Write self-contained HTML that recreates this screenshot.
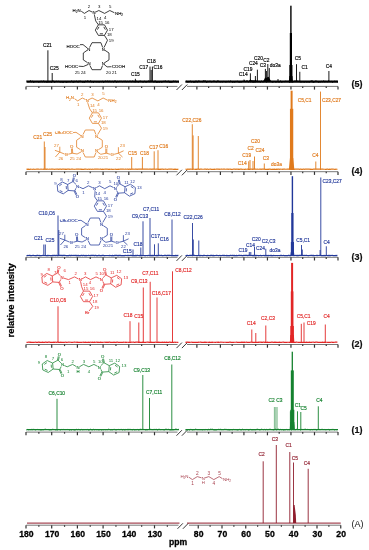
<!DOCTYPE html>
<html><head><meta charset="utf-8"><style>
html,body{margin:0;padding:0;background:#fff;}
svg{display:block;filter:blur(0.35px);}
text{font-family:"Liberation Sans",sans-serif;}
</style></head><body>
<svg width="369" height="550" viewBox="0 0 369 550" font-family="Liberation Sans, sans-serif">
<rect width="369" height="550" fill="#fff"/>
<line x1="26.20" y1="86.40" x2="177.50" y2="86.40" stroke="#555" stroke-width="0.8" />
<line x1="26.00" y1="86.40" x2="26.00" y2="89.60" stroke="#333333" stroke-width="1.2" />
<line x1="38.85" y1="86.40" x2="38.85" y2="88.00" stroke="#333333" stroke-width="1.2" />
<line x1="51.70" y1="86.40" x2="51.70" y2="89.60" stroke="#333333" stroke-width="1.2" />
<line x1="64.55" y1="86.40" x2="64.55" y2="88.00" stroke="#333333" stroke-width="1.2" />
<line x1="77.40" y1="86.40" x2="77.40" y2="89.60" stroke="#333333" stroke-width="1.2" />
<line x1="90.25" y1="86.40" x2="90.25" y2="88.00" stroke="#333333" stroke-width="1.2" />
<line x1="103.10" y1="86.40" x2="103.10" y2="89.60" stroke="#333333" stroke-width="1.2" />
<line x1="115.95" y1="86.40" x2="115.95" y2="88.00" stroke="#333333" stroke-width="1.2" />
<line x1="128.80" y1="86.40" x2="128.80" y2="89.60" stroke="#333333" stroke-width="1.2" />
<line x1="141.65" y1="86.40" x2="141.65" y2="88.00" stroke="#333333" stroke-width="1.2" />
<line x1="154.50" y1="86.40" x2="154.50" y2="89.60" stroke="#333333" stroke-width="1.2" />
<line x1="167.35" y1="86.40" x2="167.35" y2="88.00" stroke="#333333" stroke-width="1.2" />
<line x1="187.00" y1="86.40" x2="338.00" y2="86.40" stroke="#555" stroke-width="0.8" />
<line x1="338.00" y1="86.40" x2="338.00" y2="89.60" stroke="#333333" stroke-width="1.2" />
<line x1="326.24" y1="86.40" x2="326.24" y2="88.00" stroke="#333333" stroke-width="1.2" />
<line x1="314.48" y1="86.40" x2="314.48" y2="89.60" stroke="#333333" stroke-width="1.2" />
<line x1="302.72" y1="86.40" x2="302.72" y2="88.00" stroke="#333333" stroke-width="1.2" />
<line x1="290.96" y1="86.40" x2="290.96" y2="89.60" stroke="#333333" stroke-width="1.2" />
<line x1="279.20" y1="86.40" x2="279.20" y2="88.00" stroke="#333333" stroke-width="1.2" />
<line x1="267.44" y1="86.40" x2="267.44" y2="89.60" stroke="#333333" stroke-width="1.2" />
<line x1="255.68" y1="86.40" x2="255.68" y2="88.00" stroke="#333333" stroke-width="1.2" />
<line x1="243.92" y1="86.40" x2="243.92" y2="89.60" stroke="#333333" stroke-width="1.2" />
<line x1="232.16" y1="86.40" x2="232.16" y2="88.00" stroke="#333333" stroke-width="1.2" />
<line x1="220.40" y1="86.40" x2="220.40" y2="89.60" stroke="#333333" stroke-width="1.2" />
<line x1="208.64" y1="86.40" x2="208.64" y2="88.00" stroke="#333333" stroke-width="1.2" />
<line x1="196.88" y1="86.40" x2="196.88" y2="89.60" stroke="#333333" stroke-width="1.2" />
<line x1="176.50" y1="90.00" x2="181.90" y2="84.50" stroke="#222" stroke-width="0.9" />
<line x1="181.90" y1="90.00" x2="187.30" y2="84.50" stroke="#222" stroke-width="0.9" />
<line x1="26.20" y1="171.70" x2="177.50" y2="171.70" stroke="#555" stroke-width="0.8" />
<line x1="26.00" y1="171.70" x2="26.00" y2="174.90" stroke="#333333" stroke-width="1.2" />
<line x1="38.85" y1="171.70" x2="38.85" y2="173.30" stroke="#333333" stroke-width="1.2" />
<line x1="51.70" y1="171.70" x2="51.70" y2="174.90" stroke="#333333" stroke-width="1.2" />
<line x1="64.55" y1="171.70" x2="64.55" y2="173.30" stroke="#333333" stroke-width="1.2" />
<line x1="77.40" y1="171.70" x2="77.40" y2="174.90" stroke="#333333" stroke-width="1.2" />
<line x1="90.25" y1="171.70" x2="90.25" y2="173.30" stroke="#333333" stroke-width="1.2" />
<line x1="103.10" y1="171.70" x2="103.10" y2="174.90" stroke="#333333" stroke-width="1.2" />
<line x1="115.95" y1="171.70" x2="115.95" y2="173.30" stroke="#333333" stroke-width="1.2" />
<line x1="128.80" y1="171.70" x2="128.80" y2="174.90" stroke="#333333" stroke-width="1.2" />
<line x1="141.65" y1="171.70" x2="141.65" y2="173.30" stroke="#333333" stroke-width="1.2" />
<line x1="154.50" y1="171.70" x2="154.50" y2="174.90" stroke="#333333" stroke-width="1.2" />
<line x1="167.35" y1="171.70" x2="167.35" y2="173.30" stroke="#333333" stroke-width="1.2" />
<line x1="187.00" y1="171.70" x2="338.00" y2="171.70" stroke="#555" stroke-width="0.8" />
<line x1="338.00" y1="171.70" x2="338.00" y2="174.90" stroke="#333333" stroke-width="1.2" />
<line x1="326.24" y1="171.70" x2="326.24" y2="173.30" stroke="#333333" stroke-width="1.2" />
<line x1="314.48" y1="171.70" x2="314.48" y2="174.90" stroke="#333333" stroke-width="1.2" />
<line x1="302.72" y1="171.70" x2="302.72" y2="173.30" stroke="#333333" stroke-width="1.2" />
<line x1="290.96" y1="171.70" x2="290.96" y2="174.90" stroke="#333333" stroke-width="1.2" />
<line x1="279.20" y1="171.70" x2="279.20" y2="173.30" stroke="#333333" stroke-width="1.2" />
<line x1="267.44" y1="171.70" x2="267.44" y2="174.90" stroke="#333333" stroke-width="1.2" />
<line x1="255.68" y1="171.70" x2="255.68" y2="173.30" stroke="#333333" stroke-width="1.2" />
<line x1="243.92" y1="171.70" x2="243.92" y2="174.90" stroke="#333333" stroke-width="1.2" />
<line x1="232.16" y1="171.70" x2="232.16" y2="173.30" stroke="#333333" stroke-width="1.2" />
<line x1="220.40" y1="171.70" x2="220.40" y2="174.90" stroke="#333333" stroke-width="1.2" />
<line x1="208.64" y1="171.70" x2="208.64" y2="173.30" stroke="#333333" stroke-width="1.2" />
<line x1="196.88" y1="171.70" x2="196.88" y2="174.90" stroke="#333333" stroke-width="1.2" />
<line x1="176.50" y1="175.30" x2="181.90" y2="169.80" stroke="#222" stroke-width="0.9" />
<line x1="181.90" y1="175.30" x2="187.30" y2="169.80" stroke="#222" stroke-width="0.9" />
<line x1="26.20" y1="257.30" x2="177.50" y2="257.30" stroke="#555" stroke-width="0.8" />
<line x1="26.00" y1="257.30" x2="26.00" y2="260.50" stroke="#333333" stroke-width="1.2" />
<line x1="38.85" y1="257.30" x2="38.85" y2="258.90" stroke="#333333" stroke-width="1.2" />
<line x1="51.70" y1="257.30" x2="51.70" y2="260.50" stroke="#333333" stroke-width="1.2" />
<line x1="64.55" y1="257.30" x2="64.55" y2="258.90" stroke="#333333" stroke-width="1.2" />
<line x1="77.40" y1="257.30" x2="77.40" y2="260.50" stroke="#333333" stroke-width="1.2" />
<line x1="90.25" y1="257.30" x2="90.25" y2="258.90" stroke="#333333" stroke-width="1.2" />
<line x1="103.10" y1="257.30" x2="103.10" y2="260.50" stroke="#333333" stroke-width="1.2" />
<line x1="115.95" y1="257.30" x2="115.95" y2="258.90" stroke="#333333" stroke-width="1.2" />
<line x1="128.80" y1="257.30" x2="128.80" y2="260.50" stroke="#333333" stroke-width="1.2" />
<line x1="141.65" y1="257.30" x2="141.65" y2="258.90" stroke="#333333" stroke-width="1.2" />
<line x1="154.50" y1="257.30" x2="154.50" y2="260.50" stroke="#333333" stroke-width="1.2" />
<line x1="167.35" y1="257.30" x2="167.35" y2="258.90" stroke="#333333" stroke-width="1.2" />
<line x1="187.00" y1="257.30" x2="338.00" y2="257.30" stroke="#555" stroke-width="0.8" />
<line x1="338.00" y1="257.30" x2="338.00" y2="260.50" stroke="#333333" stroke-width="1.2" />
<line x1="326.24" y1="257.30" x2="326.24" y2="258.90" stroke="#333333" stroke-width="1.2" />
<line x1="314.48" y1="257.30" x2="314.48" y2="260.50" stroke="#333333" stroke-width="1.2" />
<line x1="302.72" y1="257.30" x2="302.72" y2="258.90" stroke="#333333" stroke-width="1.2" />
<line x1="290.96" y1="257.30" x2="290.96" y2="260.50" stroke="#333333" stroke-width="1.2" />
<line x1="279.20" y1="257.30" x2="279.20" y2="258.90" stroke="#333333" stroke-width="1.2" />
<line x1="267.44" y1="257.30" x2="267.44" y2="260.50" stroke="#333333" stroke-width="1.2" />
<line x1="255.68" y1="257.30" x2="255.68" y2="258.90" stroke="#333333" stroke-width="1.2" />
<line x1="243.92" y1="257.30" x2="243.92" y2="260.50" stroke="#333333" stroke-width="1.2" />
<line x1="232.16" y1="257.30" x2="232.16" y2="258.90" stroke="#333333" stroke-width="1.2" />
<line x1="220.40" y1="257.30" x2="220.40" y2="260.50" stroke="#333333" stroke-width="1.2" />
<line x1="208.64" y1="257.30" x2="208.64" y2="258.90" stroke="#333333" stroke-width="1.2" />
<line x1="196.88" y1="257.30" x2="196.88" y2="260.50" stroke="#333333" stroke-width="1.2" />
<line x1="176.50" y1="260.90" x2="181.90" y2="255.40" stroke="#222" stroke-width="0.9" />
<line x1="181.90" y1="260.90" x2="187.30" y2="255.40" stroke="#222" stroke-width="0.9" />
<line x1="26.20" y1="344.50" x2="177.50" y2="344.50" stroke="#555" stroke-width="0.8" />
<line x1="26.00" y1="344.50" x2="26.00" y2="347.70" stroke="#333333" stroke-width="1.2" />
<line x1="38.85" y1="344.50" x2="38.85" y2="346.10" stroke="#333333" stroke-width="1.2" />
<line x1="51.70" y1="344.50" x2="51.70" y2="347.70" stroke="#333333" stroke-width="1.2" />
<line x1="64.55" y1="344.50" x2="64.55" y2="346.10" stroke="#333333" stroke-width="1.2" />
<line x1="77.40" y1="344.50" x2="77.40" y2="347.70" stroke="#333333" stroke-width="1.2" />
<line x1="90.25" y1="344.50" x2="90.25" y2="346.10" stroke="#333333" stroke-width="1.2" />
<line x1="103.10" y1="344.50" x2="103.10" y2="347.70" stroke="#333333" stroke-width="1.2" />
<line x1="115.95" y1="344.50" x2="115.95" y2="346.10" stroke="#333333" stroke-width="1.2" />
<line x1="128.80" y1="344.50" x2="128.80" y2="347.70" stroke="#333333" stroke-width="1.2" />
<line x1="141.65" y1="344.50" x2="141.65" y2="346.10" stroke="#333333" stroke-width="1.2" />
<line x1="154.50" y1="344.50" x2="154.50" y2="347.70" stroke="#333333" stroke-width="1.2" />
<line x1="167.35" y1="344.50" x2="167.35" y2="346.10" stroke="#333333" stroke-width="1.2" />
<line x1="187.00" y1="344.50" x2="338.00" y2="344.50" stroke="#555" stroke-width="0.8" />
<line x1="338.00" y1="344.50" x2="338.00" y2="347.70" stroke="#333333" stroke-width="1.2" />
<line x1="326.24" y1="344.50" x2="326.24" y2="346.10" stroke="#333333" stroke-width="1.2" />
<line x1="314.48" y1="344.50" x2="314.48" y2="347.70" stroke="#333333" stroke-width="1.2" />
<line x1="302.72" y1="344.50" x2="302.72" y2="346.10" stroke="#333333" stroke-width="1.2" />
<line x1="290.96" y1="344.50" x2="290.96" y2="347.70" stroke="#333333" stroke-width="1.2" />
<line x1="279.20" y1="344.50" x2="279.20" y2="346.10" stroke="#333333" stroke-width="1.2" />
<line x1="267.44" y1="344.50" x2="267.44" y2="347.70" stroke="#333333" stroke-width="1.2" />
<line x1="255.68" y1="344.50" x2="255.68" y2="346.10" stroke="#333333" stroke-width="1.2" />
<line x1="243.92" y1="344.50" x2="243.92" y2="347.70" stroke="#333333" stroke-width="1.2" />
<line x1="232.16" y1="344.50" x2="232.16" y2="346.10" stroke="#333333" stroke-width="1.2" />
<line x1="220.40" y1="344.50" x2="220.40" y2="347.70" stroke="#333333" stroke-width="1.2" />
<line x1="208.64" y1="344.50" x2="208.64" y2="346.10" stroke="#333333" stroke-width="1.2" />
<line x1="196.88" y1="344.50" x2="196.88" y2="347.70" stroke="#333333" stroke-width="1.2" />
<line x1="176.50" y1="348.10" x2="181.90" y2="342.60" stroke="#222" stroke-width="0.9" />
<line x1="181.90" y1="348.10" x2="187.30" y2="342.60" stroke="#222" stroke-width="0.9" />
<line x1="26.20" y1="432.10" x2="177.50" y2="432.10" stroke="#555" stroke-width="0.8" />
<line x1="26.00" y1="432.10" x2="26.00" y2="435.30" stroke="#333333" stroke-width="1.2" />
<line x1="38.85" y1="432.10" x2="38.85" y2="433.70" stroke="#333333" stroke-width="1.2" />
<line x1="51.70" y1="432.10" x2="51.70" y2="435.30" stroke="#333333" stroke-width="1.2" />
<line x1="64.55" y1="432.10" x2="64.55" y2="433.70" stroke="#333333" stroke-width="1.2" />
<line x1="77.40" y1="432.10" x2="77.40" y2="435.30" stroke="#333333" stroke-width="1.2" />
<line x1="90.25" y1="432.10" x2="90.25" y2="433.70" stroke="#333333" stroke-width="1.2" />
<line x1="103.10" y1="432.10" x2="103.10" y2="435.30" stroke="#333333" stroke-width="1.2" />
<line x1="115.95" y1="432.10" x2="115.95" y2="433.70" stroke="#333333" stroke-width="1.2" />
<line x1="128.80" y1="432.10" x2="128.80" y2="435.30" stroke="#333333" stroke-width="1.2" />
<line x1="141.65" y1="432.10" x2="141.65" y2="433.70" stroke="#333333" stroke-width="1.2" />
<line x1="154.50" y1="432.10" x2="154.50" y2="435.30" stroke="#333333" stroke-width="1.2" />
<line x1="167.35" y1="432.10" x2="167.35" y2="433.70" stroke="#333333" stroke-width="1.2" />
<line x1="187.00" y1="432.10" x2="338.00" y2="432.10" stroke="#555" stroke-width="0.8" />
<line x1="338.00" y1="432.10" x2="338.00" y2="435.30" stroke="#333333" stroke-width="1.2" />
<line x1="326.24" y1="432.10" x2="326.24" y2="433.70" stroke="#333333" stroke-width="1.2" />
<line x1="314.48" y1="432.10" x2="314.48" y2="435.30" stroke="#333333" stroke-width="1.2" />
<line x1="302.72" y1="432.10" x2="302.72" y2="433.70" stroke="#333333" stroke-width="1.2" />
<line x1="290.96" y1="432.10" x2="290.96" y2="435.30" stroke="#333333" stroke-width="1.2" />
<line x1="279.20" y1="432.10" x2="279.20" y2="433.70" stroke="#333333" stroke-width="1.2" />
<line x1="267.44" y1="432.10" x2="267.44" y2="435.30" stroke="#333333" stroke-width="1.2" />
<line x1="255.68" y1="432.10" x2="255.68" y2="433.70" stroke="#333333" stroke-width="1.2" />
<line x1="243.92" y1="432.10" x2="243.92" y2="435.30" stroke="#333333" stroke-width="1.2" />
<line x1="232.16" y1="432.10" x2="232.16" y2="433.70" stroke="#333333" stroke-width="1.2" />
<line x1="220.40" y1="432.10" x2="220.40" y2="435.30" stroke="#333333" stroke-width="1.2" />
<line x1="208.64" y1="432.10" x2="208.64" y2="433.70" stroke="#333333" stroke-width="1.2" />
<line x1="196.88" y1="432.10" x2="196.88" y2="435.30" stroke="#333333" stroke-width="1.2" />
<line x1="176.50" y1="435.70" x2="181.90" y2="430.20" stroke="#222" stroke-width="0.9" />
<line x1="181.90" y1="435.70" x2="187.30" y2="430.20" stroke="#222" stroke-width="0.9" />
<line x1="26.20" y1="525.20" x2="178.50" y2="525.20" stroke="#555" stroke-width="0.8" />
<line x1="26.00" y1="525.20" x2="26.00" y2="528.40" stroke="#333333" stroke-width="1.2" />
<line x1="38.85" y1="525.20" x2="38.85" y2="526.80" stroke="#333333" stroke-width="1.2" />
<line x1="51.70" y1="525.20" x2="51.70" y2="528.40" stroke="#333333" stroke-width="1.2" />
<line x1="64.55" y1="525.20" x2="64.55" y2="526.80" stroke="#333333" stroke-width="1.2" />
<line x1="77.40" y1="525.20" x2="77.40" y2="528.40" stroke="#333333" stroke-width="1.2" />
<line x1="90.25" y1="525.20" x2="90.25" y2="526.80" stroke="#333333" stroke-width="1.2" />
<line x1="103.10" y1="525.20" x2="103.10" y2="528.40" stroke="#333333" stroke-width="1.2" />
<line x1="115.95" y1="525.20" x2="115.95" y2="526.80" stroke="#333333" stroke-width="1.2" />
<line x1="128.80" y1="525.20" x2="128.80" y2="528.40" stroke="#333333" stroke-width="1.2" />
<line x1="141.65" y1="525.20" x2="141.65" y2="526.80" stroke="#333333" stroke-width="1.2" />
<line x1="154.50" y1="525.20" x2="154.50" y2="528.40" stroke="#333333" stroke-width="1.2" />
<line x1="167.35" y1="525.20" x2="167.35" y2="526.80" stroke="#333333" stroke-width="1.2" />
<line x1="189.00" y1="525.20" x2="340.75" y2="525.20" stroke="#555" stroke-width="0.8" />
<line x1="340.75" y1="525.20" x2="340.75" y2="528.40" stroke="#333333" stroke-width="1.2" />
<line x1="328.88" y1="525.20" x2="328.88" y2="526.80" stroke="#333333" stroke-width="1.2" />
<line x1="317.00" y1="525.20" x2="317.00" y2="528.40" stroke="#333333" stroke-width="1.2" />
<line x1="305.12" y1="525.20" x2="305.12" y2="526.80" stroke="#333333" stroke-width="1.2" />
<line x1="293.25" y1="525.20" x2="293.25" y2="528.40" stroke="#333333" stroke-width="1.2" />
<line x1="281.38" y1="525.20" x2="281.38" y2="526.80" stroke="#333333" stroke-width="1.2" />
<line x1="269.50" y1="525.20" x2="269.50" y2="528.40" stroke="#333333" stroke-width="1.2" />
<line x1="257.62" y1="525.20" x2="257.62" y2="526.80" stroke="#333333" stroke-width="1.2" />
<line x1="245.75" y1="525.20" x2="245.75" y2="528.40" stroke="#333333" stroke-width="1.2" />
<line x1="233.88" y1="525.20" x2="233.88" y2="526.80" stroke="#333333" stroke-width="1.2" />
<line x1="222.00" y1="525.20" x2="222.00" y2="528.40" stroke="#333333" stroke-width="1.2" />
<line x1="210.12" y1="525.20" x2="210.12" y2="526.80" stroke="#333333" stroke-width="1.2" />
<line x1="198.25" y1="525.20" x2="198.25" y2="528.40" stroke="#333333" stroke-width="1.2" />
<line x1="177.50" y1="528.80" x2="182.90" y2="523.30" stroke="#222" stroke-width="0.9" />
<line x1="182.90" y1="528.80" x2="188.30" y2="523.30" stroke="#222" stroke-width="0.9" />
<line x1="26.50" y1="81.60" x2="179.00" y2="81.60" stroke="#000000" stroke-width="2.2" />
<line x1="185.50" y1="81.60" x2="338.00" y2="81.60" stroke="#000000" stroke-width="2.2" />
<polyline points="26.50,81.13 27.20,81.68 27.90,81.37 28.60,81.79 29.30,81.83 30.00,80.82 30.70,80.72 31.40,82.21 32.10,81.17 32.80,81.12 33.50,82.49 34.20,81.55 34.90,82.21 35.60,81.56 36.30,81.85 37.00,80.97 37.70,81.84 38.40,82.26 39.10,81.64 39.80,82.03 40.50,81.91 41.20,80.82 41.90,82.06 42.60,81.76 43.30,81.24 44.00,80.76 44.70,82.26 45.40,81.55 46.10,81.99 46.80,82.28 47.50,81.99 48.20,82.36 48.90,81.41 49.60,82.14 50.30,81.50 51.00,82.38 51.70,82.28 52.40,80.88 53.10,80.94 53.80,81.09 54.50,82.44 55.20,81.49 55.90,81.83 56.60,81.24 57.30,81.61 58.00,81.39 58.70,81.33 59.40,81.75 60.10,81.75 60.80,82.33 61.50,81.93 62.20,82.37 62.90,82.24 63.60,82.48 64.30,81.91 65.00,80.99 65.70,82.25 66.40,82.44 67.10,82.33 67.80,81.72 68.50,81.98 69.20,81.08 69.90,82.20 70.60,81.73 71.30,81.21 72.00,80.81 72.70,82.24 73.40,82.48 74.10,80.86 74.80,82.14 75.50,81.44 76.20,80.97 76.90,81.23 77.60,82.08 78.30,82.27 79.00,80.78 79.70,81.81 80.40,80.78 81.10,81.99 81.80,81.30 82.50,82.29 83.20,82.47 83.90,81.61 84.60,82.50 85.30,81.26 86.00,80.84 86.70,81.78 87.40,80.76 88.10,81.06 88.80,81.43 89.50,81.80 90.20,80.98 90.90,80.78 91.60,82.26 92.30,81.26 93.00,82.43 93.70,82.31 94.40,81.38 95.10,81.53 95.80,81.64 96.50,81.86 97.20,81.77 97.90,81.71 98.60,81.82 99.30,82.39 100.00,81.61 100.70,81.48 101.40,82.00 102.10,81.13 102.80,81.24 103.50,82.46 104.20,81.64 104.90,81.69 105.60,80.72 106.30,81.45 107.00,81.74 107.70,80.74 108.40,81.81 109.10,81.84 109.80,80.81 110.50,81.83 111.20,81.54 111.90,81.92 112.60,81.33 113.30,81.97 114.00,82.03 114.70,80.74 115.40,80.81 116.10,81.92 116.80,82.43 117.50,81.15 118.20,81.52 118.90,81.77 119.60,81.28 120.30,81.36 121.00,81.26 121.70,81.36 122.40,81.77 123.10,81.24 123.80,81.38 124.50,82.09 125.20,80.75 125.90,81.72 126.60,82.02 127.30,81.26 128.00,81.10 128.70,82.15 129.40,81.13 130.10,81.04 130.80,81.48 131.50,81.96 132.20,80.88 132.90,81.28 133.60,81.30 134.30,82.20 135.00,81.49 135.70,82.24 136.40,81.00 137.10,81.31 137.80,81.87 138.50,82.29 139.20,81.51 139.90,81.11 140.60,80.92 141.30,81.65 142.00,81.04 142.70,82.15 143.40,82.21 144.10,81.03 144.80,81.20 145.50,82.15 146.20,81.86 146.90,82.15 147.60,81.32 148.30,80.93 149.00,81.23 149.70,82.13 150.40,81.19 151.10,81.32 151.80,81.45 152.50,81.46 153.20,81.44 153.90,82.36 154.60,80.98 155.30,80.71 156.00,82.40 156.70,82.28 157.40,82.48 158.10,81.48 158.80,82.41 159.50,82.37 160.20,81.10 160.90,82.04 161.60,82.21 162.30,81.89 163.00,81.63 163.70,81.22 164.40,81.31 165.10,81.11 165.80,80.82 166.50,81.76 167.20,81.22 167.90,82.16 168.60,80.78 169.30,82.33 170.00,81.95 170.70,82.36 171.40,82.31 172.10,82.32 172.80,81.74 173.50,80.72 174.20,82.04 174.90,81.01 175.60,81.24 176.30,81.89 177.00,81.64 177.70,81.44 178.40,82.39" stroke="#000000" stroke-width="0.9" fill="none" />
<polyline points="185.50,81.80 186.20,81.31 186.90,81.15 187.60,82.25 188.30,81.56 189.00,82.11 189.70,81.33 190.40,81.06 191.10,81.66 191.80,82.17 192.50,81.01 193.20,82.13 193.90,82.36 194.60,82.15 195.30,82.18 196.00,80.71 196.70,81.83 197.40,82.25 198.10,80.79 198.80,81.19 199.50,81.18 200.20,81.65 200.90,81.46 201.60,81.55 202.30,82.10 203.00,80.70 203.70,80.80 204.40,80.93 205.10,80.92 205.80,80.82 206.50,82.45 207.20,82.24 207.90,80.86 208.60,81.60 209.30,81.27 210.00,81.27 210.70,81.33 211.40,81.86 212.10,81.76 212.80,81.35 213.50,81.04 214.20,81.29 214.90,80.92 215.60,81.70 216.30,81.99 217.00,81.38 217.70,80.84 218.40,81.02 219.10,81.37 219.80,81.79 220.50,82.11 221.20,81.38 221.90,82.14 222.60,81.82 223.30,81.48 224.00,81.37 224.70,81.59 225.40,81.97 226.10,81.46 226.80,81.95 227.50,81.53 228.20,81.14 228.90,81.66 229.60,81.95 230.30,80.83 231.00,81.46 231.70,81.47 232.40,82.28 233.10,82.39 233.80,81.37 234.50,82.32 235.20,82.12 235.90,81.17 236.60,81.54 237.30,80.92 238.00,82.16 238.70,81.89 239.40,82.30 240.10,82.13 240.80,81.90 241.50,82.02 242.20,81.71 242.90,80.89 243.60,81.76 244.30,80.71 245.00,80.96 245.70,82.09 246.40,80.78 247.10,80.87 247.80,80.88 248.50,82.28 249.20,81.02 249.90,80.74 250.60,82.21 251.30,80.92 252.00,82.22 252.70,81.91 253.40,82.21 254.10,82.41 254.80,81.74 255.50,82.14 256.20,80.77 256.90,82.08 257.60,81.62 258.30,81.99 259.00,80.89 259.70,82.05 260.40,82.38 261.10,80.81 261.80,81.28 262.50,81.72 263.20,82.19 263.90,81.14 264.60,81.02 265.30,81.15 266.00,81.81 266.70,82.06 267.40,81.41 268.10,81.36 268.80,81.41 269.50,81.33 270.20,81.45 270.90,80.85 271.60,81.60 272.30,82.45 273.00,81.44 273.70,82.05 274.40,80.99 275.10,81.94 275.80,82.06 276.50,81.91 277.20,81.63 277.90,81.57 278.60,81.86 279.30,82.32 280.00,80.97 280.70,80.87 281.40,82.05 282.10,82.35 282.80,81.63 283.50,81.50 284.20,81.99 284.90,81.03 285.60,81.18 286.30,81.06 287.00,81.75 287.70,81.27 288.40,81.12 289.10,81.94 289.80,82.42 290.50,81.23 291.20,81.97 291.90,81.44 292.60,82.24 293.30,81.75 294.00,81.18 294.70,81.09 295.40,80.74 296.10,81.56 296.80,81.39 297.50,81.01 298.20,81.35 298.90,81.28 299.60,82.09 300.30,80.96 301.00,82.48 301.70,81.56 302.40,81.78 303.10,81.54 303.80,82.20 304.50,82.18 305.20,81.70 305.90,81.57 306.60,82.00 307.30,82.24 308.00,81.42 308.70,82.02 309.40,82.43 310.10,81.54 310.80,81.11 311.50,81.12 312.20,81.99 312.90,81.92 313.60,82.43 314.30,82.24 315.00,81.14 315.70,81.04 316.40,81.17 317.10,81.04 317.80,81.97 318.50,82.25 319.20,82.32 319.90,81.16 320.60,82.26 321.30,81.26 322.00,81.46 322.70,82.01 323.40,80.85 324.10,80.87 324.80,82.20 325.50,81.23 326.20,81.34 326.90,81.74 327.60,81.92 328.30,80.71 329.00,81.30 329.70,81.49 330.40,81.57 331.10,81.08 331.80,81.75 332.50,82.42 333.20,81.40 333.90,81.68 334.60,80.91 335.30,81.19 336.00,81.90 336.70,80.90 337.40,82.30" stroke="#000000" stroke-width="0.9" fill="none" />
<polyline points="26.50,169.32 27.20,169.08 27.90,169.33 28.60,169.16 29.30,169.28 30.00,169.28 30.70,169.14 31.40,169.25 32.10,169.25 32.80,169.29 33.50,169.13 34.20,169.28 34.90,169.34 35.60,169.25 36.30,169.21 37.00,169.08 37.70,169.20 38.40,169.16 39.10,169.27 39.80,169.25 40.50,169.22 41.20,169.10 41.90,169.24 42.60,169.24 43.30,169.10 44.00,169.32 44.70,169.25 45.40,169.09 46.10,169.33 46.80,169.09 47.50,169.15 48.20,169.27 48.90,169.23 49.60,169.22 50.30,169.24 51.00,169.19 51.70,169.14 52.40,169.10 53.10,169.07 53.80,169.26 54.50,169.28 55.20,169.21 55.90,169.27 56.60,169.16 57.30,169.13 58.00,169.17 58.70,169.31 59.40,169.06 60.10,169.20 60.80,169.12 61.50,169.28 62.20,169.16 62.90,169.15 63.60,169.17 64.30,169.21 65.00,169.28 65.70,169.16 66.40,169.30 67.10,169.08 67.80,169.13 68.50,169.08 69.20,169.08 69.90,169.28 70.60,169.27 71.30,169.11 72.00,169.11 72.70,169.17 73.40,169.27 74.10,169.29 74.80,169.27 75.50,169.23 76.20,169.09 76.90,169.17 77.60,169.11 78.30,169.21 79.00,169.22 79.70,169.11 80.40,169.13 81.10,169.28 81.80,169.06 82.50,169.29 83.20,169.32 83.90,169.33 84.60,169.16 85.30,169.22 86.00,169.22 86.70,169.24 87.40,169.34 88.10,169.26 88.80,169.14 89.50,169.31 90.20,169.20 90.90,169.23 91.60,169.27 92.30,169.05 93.00,169.28 93.70,169.25 94.40,169.20 95.10,169.21 95.80,169.19 96.50,169.11 97.20,169.21 97.90,169.06 98.60,169.20 99.30,169.24 100.00,169.18 100.70,169.22 101.40,169.34 102.10,169.32 102.80,169.09 103.50,169.29 104.20,169.24 104.90,169.07 105.60,169.16 106.30,169.12 107.00,169.07 107.70,169.21 108.40,169.33 109.10,169.15 109.80,169.31 110.50,169.26 111.20,169.09 111.90,169.31 112.60,169.23 113.30,169.33 114.00,169.26 114.70,169.27 115.40,169.15 116.10,169.29 116.80,169.33 117.50,169.31 118.20,169.18 118.90,169.28 119.60,169.20 120.30,169.08 121.00,169.06 121.70,169.07 122.40,169.11 123.10,169.10 123.80,169.20 124.50,169.26 125.20,169.21 125.90,169.18 126.60,169.24 127.30,169.14 128.00,169.19 128.70,169.28 129.40,169.17 130.10,169.10 130.80,169.32 131.50,169.27 132.20,169.16 132.90,169.16 133.60,169.21 134.30,169.23 135.00,169.12 135.70,169.05 136.40,169.11 137.10,169.28 137.80,169.09 138.50,169.19 139.20,169.11 139.90,169.11 140.60,169.10 141.30,169.17 142.00,169.10 142.70,169.06 143.40,169.08 144.10,169.10 144.80,169.20 145.50,169.07 146.20,169.06 146.90,169.18 147.60,169.17 148.30,169.26 149.00,169.07 149.70,169.17 150.40,169.17 151.10,169.06 151.80,169.34 152.50,169.12 153.20,169.08 153.90,169.19 154.60,169.10 155.30,169.24 156.00,169.15 156.70,169.09 157.40,169.07 158.10,169.27 158.80,169.13 159.50,169.29 160.20,169.19 160.90,169.33 161.60,169.14 162.30,169.12 163.00,169.13 163.70,169.29 164.40,169.24 165.10,169.15 165.80,169.08 166.50,169.25 167.20,169.34 167.90,169.23 168.60,169.05 169.30,169.06 170.00,169.08 170.70,169.10 171.40,169.06 172.10,169.07 172.80,169.25 173.50,169.32 174.20,169.11 174.90,169.34 175.60,169.19 176.30,169.29 177.00,169.33 177.70,169.33 178.40,169.06" stroke="#e07a1c" stroke-width="1.2" fill="none" />
<polyline points="185.50,169.14 186.20,169.23 186.90,169.33 187.60,169.08 188.30,169.14 189.00,169.30 189.70,169.08 190.40,169.17 191.10,169.15 191.80,169.25 192.50,169.33 193.20,169.10 193.90,169.27 194.60,169.27 195.30,169.30 196.00,169.22 196.70,169.33 197.40,169.16 198.10,169.17 198.80,169.12 199.50,169.28 200.20,169.19 200.90,169.13 201.60,169.10 202.30,169.27 203.00,169.23 203.70,169.26 204.40,169.17 205.10,169.20 205.80,169.10 206.50,169.26 207.20,169.06 207.90,169.19 208.60,169.28 209.30,169.25 210.00,169.08 210.70,169.12 211.40,169.30 212.10,169.24 212.80,169.31 213.50,169.31 214.20,169.18 214.90,169.32 215.60,169.27 216.30,169.15 217.00,169.16 217.70,169.07 218.40,169.17 219.10,169.34 219.80,169.08 220.50,169.22 221.20,169.08 221.90,169.07 222.60,169.24 223.30,169.12 224.00,169.06 224.70,169.10 225.40,169.24 226.10,169.23 226.80,169.05 227.50,169.12 228.20,169.34 228.90,169.12 229.60,169.22 230.30,169.18 231.00,169.28 231.70,169.23 232.40,169.29 233.10,169.21 233.80,169.11 234.50,169.10 235.20,169.07 235.90,169.30 236.60,169.08 237.30,169.06 238.00,169.34 238.70,169.11 239.40,169.32 240.10,169.08 240.80,169.19 241.50,169.12 242.20,169.30 242.90,169.23 243.60,169.24 244.30,169.28 245.00,169.31 245.70,169.15 246.40,169.23 247.10,169.18 247.80,169.08 248.50,169.30 249.20,169.23 249.90,169.29 250.60,169.11 251.30,169.21 252.00,169.19 252.70,169.27 253.40,169.07 254.10,169.15 254.80,169.20 255.50,169.07 256.20,169.22 256.90,169.27 257.60,169.18 258.30,169.24 259.00,169.23 259.70,169.11 260.40,169.16 261.10,169.35 261.80,169.15 262.50,169.18 263.20,169.08 263.90,169.12 264.60,169.10 265.30,169.33 266.00,169.27 266.70,169.31 267.40,169.35 268.10,169.23 268.80,169.33 269.50,169.21 270.20,169.18 270.90,169.33 271.60,169.32 272.30,169.33 273.00,169.20 273.70,169.28 274.40,169.17 275.10,169.35 275.80,169.33 276.50,169.14 277.20,169.33 277.90,169.11 278.60,169.08 279.30,169.27 280.00,169.14 280.70,169.21 281.40,169.24 282.10,169.06 282.80,169.27 283.50,169.13 284.20,169.18 284.90,169.15 285.60,169.27 286.30,169.27 287.00,169.14 287.70,169.08 288.40,169.14 289.10,169.17 289.80,169.07 290.50,169.10 291.20,169.28 291.90,169.26 292.60,169.34 293.30,169.34 294.00,169.31 294.70,169.16 295.40,169.10 296.10,169.14 296.80,169.19 297.50,169.21 298.20,169.21 298.90,169.16 299.60,169.31 300.30,169.14 301.00,169.19 301.70,169.32 302.40,169.29 303.10,169.14 303.80,169.12 304.50,169.29 305.20,169.05 305.90,169.09 306.60,169.21 307.30,169.21 308.00,169.10 308.70,169.07 309.40,169.11 310.10,169.28 310.80,169.19 311.50,169.34 312.20,169.29 312.90,169.34 313.60,169.06 314.30,169.11 315.00,169.05 315.70,169.18 316.40,169.15 317.10,169.07 317.80,169.21 318.50,169.08 319.20,169.14 319.90,169.12 320.60,169.29 321.30,169.18 322.00,169.13 322.70,169.06 323.40,169.18 324.10,169.24 324.80,169.25 325.50,169.32 326.20,169.29 326.90,169.12 327.60,169.09 328.30,169.28 329.00,169.29 329.70,169.20 330.40,169.30 331.10,169.22 331.80,169.13 332.50,169.10 333.20,169.06 333.90,169.24 334.60,169.32 335.30,169.32 336.00,169.19 336.70,169.25 337.40,169.33" stroke="#e07a1c" stroke-width="1.2" fill="none" />
<polyline points="26.50,255.59 27.20,255.53 27.90,255.47 28.60,255.51 29.30,255.40 30.00,255.40 30.70,255.56 31.40,255.65 32.10,255.51 32.80,255.47 33.50,255.46 34.20,255.49 34.90,255.59 35.60,255.49 36.30,255.64 37.00,255.40 37.70,255.44 38.40,255.51 39.10,255.47 39.80,255.61 40.50,255.60 41.20,255.63 41.90,255.53 42.60,255.36 43.30,255.52 44.00,255.51 44.70,255.50 45.40,255.43 46.10,255.56 46.80,255.62 47.50,255.38 48.20,255.55 48.90,255.46 49.60,255.50 50.30,255.62 51.00,255.64 51.70,255.54 52.40,255.41 53.10,255.63 53.80,255.40 54.50,255.46 55.20,255.60 55.90,255.44 56.60,255.43 57.30,255.63 58.00,255.63 58.70,255.45 59.40,255.47 60.10,255.43 60.80,255.39 61.50,255.43 62.20,255.64 62.90,255.37 63.60,255.42 64.30,255.41 65.00,255.37 65.70,255.51 66.40,255.57 67.10,255.60 67.80,255.54 68.50,255.60 69.20,255.35 69.90,255.43 70.60,255.64 71.30,255.37 72.00,255.43 72.70,255.49 73.40,255.43 74.10,255.51 74.80,255.36 75.50,255.42 76.20,255.64 76.90,255.39 77.60,255.62 78.30,255.40 79.00,255.65 79.70,255.55 80.40,255.54 81.10,255.39 81.80,255.37 82.50,255.58 83.20,255.40 83.90,255.41 84.60,255.60 85.30,255.61 86.00,255.36 86.70,255.64 87.40,255.51 88.10,255.46 88.80,255.38 89.50,255.47 90.20,255.65 90.90,255.43 91.60,255.39 92.30,255.39 93.00,255.39 93.70,255.46 94.40,255.62 95.10,255.37 95.80,255.41 96.50,255.63 97.20,255.65 97.90,255.64 98.60,255.42 99.30,255.46 100.00,255.64 100.70,255.50 101.40,255.56 102.10,255.44 102.80,255.36 103.50,255.45 104.20,255.57 104.90,255.58 105.60,255.52 106.30,255.49 107.00,255.51 107.70,255.48 108.40,255.51 109.10,255.60 109.80,255.41 110.50,255.53 111.20,255.63 111.90,255.60 112.60,255.40 113.30,255.64 114.00,255.60 114.70,255.40 115.40,255.43 116.10,255.41 116.80,255.37 117.50,255.64 118.20,255.47 118.90,255.61 119.60,255.38 120.30,255.35 121.00,255.61 121.70,255.59 122.40,255.65 123.10,255.56 123.80,255.51 124.50,255.58 125.20,255.38 125.90,255.51 126.60,255.48 127.30,255.39 128.00,255.53 128.70,255.45 129.40,255.50 130.10,255.46 130.80,255.45 131.50,255.46 132.20,255.53 132.90,255.64 133.60,255.63 134.30,255.61 135.00,255.60 135.70,255.44 136.40,255.64 137.10,255.43 137.80,255.39 138.50,255.50 139.20,255.57 139.90,255.45 140.60,255.54 141.30,255.43 142.00,255.64 142.70,255.49 143.40,255.49 144.10,255.51 144.80,255.61 145.50,255.65 146.20,255.51 146.90,255.48 147.60,255.54 148.30,255.37 149.00,255.48 149.70,255.60 150.40,255.58 151.10,255.37 151.80,255.61 152.50,255.47 153.20,255.64 153.90,255.46 154.60,255.41 155.30,255.51 156.00,255.62 156.70,255.48 157.40,255.61 158.10,255.56 158.80,255.46 159.50,255.44 160.20,255.50 160.90,255.47 161.60,255.46 162.30,255.55 163.00,255.61 163.70,255.53 164.40,255.39 165.10,255.42 165.80,255.46 166.50,255.53 167.20,255.39 167.90,255.37 168.60,255.45 169.30,255.43 170.00,255.36 170.70,255.51 171.40,255.63 172.10,255.51 172.80,255.57 173.50,255.60 174.20,255.60 174.90,255.62 175.60,255.48 176.30,255.55 177.00,255.39 177.70,255.61 178.40,255.46" stroke="#22389a" stroke-width="1.2" fill="none" />
<polyline points="185.50,255.49 186.20,255.62 186.90,255.44 187.60,255.41 188.30,255.60 189.00,255.53 189.70,255.38 190.40,255.36 191.10,255.46 191.80,255.35 192.50,255.60 193.20,255.41 193.90,255.43 194.60,255.47 195.30,255.50 196.00,255.48 196.70,255.54 197.40,255.55 198.10,255.48 198.80,255.38 199.50,255.64 200.20,255.56 200.90,255.38 201.60,255.48 202.30,255.58 203.00,255.65 203.70,255.37 204.40,255.35 205.10,255.49 205.80,255.48 206.50,255.62 207.20,255.60 207.90,255.45 208.60,255.48 209.30,255.52 210.00,255.62 210.70,255.41 211.40,255.47 212.10,255.38 212.80,255.54 213.50,255.36 214.20,255.63 214.90,255.51 215.60,255.52 216.30,255.38 217.00,255.42 217.70,255.49 218.40,255.61 219.10,255.51 219.80,255.44 220.50,255.64 221.20,255.55 221.90,255.51 222.60,255.41 223.30,255.44 224.00,255.62 224.70,255.39 225.40,255.51 226.10,255.54 226.80,255.46 227.50,255.58 228.20,255.62 228.90,255.61 229.60,255.57 230.30,255.41 231.00,255.37 231.70,255.48 232.40,255.44 233.10,255.41 233.80,255.61 234.50,255.41 235.20,255.60 235.90,255.63 236.60,255.39 237.30,255.62 238.00,255.47 238.70,255.41 239.40,255.41 240.10,255.36 240.80,255.50 241.50,255.47 242.20,255.61 242.90,255.60 243.60,255.37 244.30,255.47 245.00,255.47 245.70,255.40 246.40,255.43 247.10,255.43 247.80,255.56 248.50,255.45 249.20,255.38 249.90,255.42 250.60,255.48 251.30,255.52 252.00,255.42 252.70,255.56 253.40,255.41 254.10,255.55 254.80,255.53 255.50,255.40 256.20,255.58 256.90,255.47 257.60,255.51 258.30,255.53 259.00,255.54 259.70,255.48 260.40,255.37 261.10,255.59 261.80,255.61 262.50,255.50 263.20,255.52 263.90,255.43 264.60,255.62 265.30,255.56 266.00,255.42 266.70,255.60 267.40,255.65 268.10,255.45 268.80,255.65 269.50,255.49 270.20,255.40 270.90,255.57 271.60,255.45 272.30,255.57 273.00,255.53 273.70,255.38 274.40,255.51 275.10,255.61 275.80,255.49 276.50,255.51 277.20,255.61 277.90,255.48 278.60,255.50 279.30,255.52 280.00,255.60 280.70,255.41 281.40,255.38 282.10,255.58 282.80,255.52 283.50,255.44 284.20,255.62 284.90,255.62 285.60,255.51 286.30,255.65 287.00,255.60 287.70,255.57 288.40,255.44 289.10,255.35 289.80,255.55 290.50,255.57 291.20,255.46 291.90,255.49 292.60,255.52 293.30,255.42 294.00,255.56 294.70,255.52 295.40,255.47 296.10,255.38 296.80,255.52 297.50,255.45 298.20,255.57 298.90,255.40 299.60,255.47 300.30,255.41 301.00,255.47 301.70,255.52 302.40,255.38 303.10,255.37 303.80,255.49 304.50,255.41 305.20,255.50 305.90,255.40 306.60,255.38 307.30,255.51 308.00,255.63 308.70,255.61 309.40,255.50 310.10,255.47 310.80,255.37 311.50,255.43 312.20,255.44 312.90,255.63 313.60,255.39 314.30,255.63 315.00,255.49 315.70,255.48 316.40,255.43 317.10,255.64 317.80,255.41 318.50,255.52 319.20,255.50 319.90,255.41 320.60,255.42 321.30,255.65 322.00,255.59 322.70,255.57 323.40,255.62 324.10,255.38 324.80,255.56 325.50,255.58 326.20,255.42 326.90,255.49 327.60,255.64 328.30,255.45 329.00,255.58 329.70,255.40 330.40,255.55 331.10,255.43 331.80,255.50 332.50,255.46 333.20,255.61 333.90,255.57 334.60,255.50 335.30,255.56 336.00,255.48 336.70,255.59 337.40,255.43" stroke="#22389a" stroke-width="1.2" fill="none" />
<polyline points="26.50,342.31 27.20,342.33 27.90,342.27 28.60,342.16 29.30,342.20 30.00,342.34 30.70,342.21 31.40,342.38 32.10,342.30 32.80,342.44 33.50,342.40 34.20,342.37 34.90,342.26 35.60,342.16 36.30,342.32 37.00,342.37 37.70,342.43 38.40,342.21 39.10,342.20 39.80,342.44 40.50,342.37 41.20,342.30 41.90,342.37 42.60,342.19 43.30,342.31 44.00,342.35 44.70,342.33 45.40,342.20 46.10,342.19 46.80,342.34 47.50,342.42 48.20,342.19 48.90,342.15 49.60,342.17 50.30,342.39 51.00,342.27 51.70,342.29 52.40,342.45 53.10,342.33 53.80,342.23 54.50,342.36 55.20,342.15 55.90,342.23 56.60,342.36 57.30,342.20 58.00,342.16 58.70,342.31 59.40,342.25 60.10,342.44 60.80,342.18 61.50,342.39 62.20,342.27 62.90,342.39 63.60,342.28 64.30,342.35 65.00,342.25 65.70,342.22 66.40,342.29 67.10,342.39 67.80,342.25 68.50,342.22 69.20,342.27 69.90,342.18 70.60,342.24 71.30,342.32 72.00,342.31 72.70,342.33 73.40,342.24 74.10,342.16 74.80,342.16 75.50,342.25 76.20,342.21 76.90,342.32 77.60,342.23 78.30,342.38 79.00,342.33 79.70,342.35 80.40,342.37 81.10,342.31 81.80,342.28 82.50,342.24 83.20,342.17 83.90,342.39 84.60,342.30 85.30,342.18 86.00,342.43 86.70,342.32 87.40,342.34 88.10,342.28 88.80,342.19 89.50,342.45 90.20,342.20 90.90,342.26 91.60,342.45 92.30,342.19 93.00,342.30 93.70,342.29 94.40,342.22 95.10,342.43 95.80,342.27 96.50,342.15 97.20,342.29 97.90,342.15 98.60,342.36 99.30,342.41 100.00,342.42 100.70,342.16 101.40,342.35 102.10,342.24 102.80,342.29 103.50,342.24 104.20,342.24 104.90,342.19 105.60,342.34 106.30,342.18 107.00,342.44 107.70,342.16 108.40,342.44 109.10,342.21 109.80,342.18 110.50,342.37 111.20,342.31 111.90,342.38 112.60,342.30 113.30,342.34 114.00,342.17 114.70,342.35 115.40,342.30 116.10,342.44 116.80,342.15 117.50,342.17 118.20,342.35 118.90,342.43 119.60,342.28 120.30,342.36 121.00,342.32 121.70,342.27 122.40,342.29 123.10,342.33 123.80,342.16 124.50,342.24 125.20,342.37 125.90,342.23 126.60,342.29 127.30,342.23 128.00,342.26 128.70,342.35 129.40,342.37 130.10,342.44 130.80,342.29 131.50,342.21 132.20,342.25 132.90,342.17 133.60,342.22 134.30,342.33 135.00,342.33 135.70,342.22 136.40,342.20 137.10,342.18 137.80,342.20 138.50,342.30 139.20,342.23 139.90,342.42 140.60,342.32 141.30,342.25 142.00,342.28 142.70,342.16 143.40,342.37 144.10,342.38 144.80,342.26 145.50,342.37 146.20,342.23 146.90,342.22 147.60,342.22 148.30,342.21 149.00,342.33 149.70,342.34 150.40,342.37 151.10,342.18 151.80,342.38 152.50,342.29 153.20,342.26 153.90,342.30 154.60,342.28 155.30,342.21 156.00,342.27 156.70,342.34 157.40,342.36 158.10,342.42 158.80,342.21 159.50,342.42 160.20,342.39 160.90,342.36 161.60,342.44 162.30,342.19 163.00,342.38 163.70,342.42 164.40,342.19 165.10,342.33 165.80,342.43 166.50,342.24 167.20,342.41 167.90,342.42 168.60,342.28 169.30,342.19 170.00,342.21 170.70,342.40 171.40,342.28 172.10,342.24 172.80,342.28 173.50,342.43 174.20,342.23 174.90,342.16 175.60,342.43 176.30,342.25 177.00,342.27 177.70,342.44 178.40,342.23" stroke="#e22626" stroke-width="1.2" fill="none" />
<polyline points="185.50,342.18 186.20,342.42 186.90,342.22 187.60,342.22 188.30,342.43 189.00,342.22 189.70,342.42 190.40,342.25 191.10,342.24 191.80,342.21 192.50,342.31 193.20,342.32 193.90,342.27 194.60,342.30 195.30,342.24 196.00,342.40 196.70,342.43 197.40,342.38 198.10,342.40 198.80,342.17 199.50,342.23 200.20,342.21 200.90,342.20 201.60,342.44 202.30,342.42 203.00,342.42 203.70,342.32 204.40,342.18 205.10,342.28 205.80,342.17 206.50,342.42 207.20,342.23 207.90,342.24 208.60,342.43 209.30,342.21 210.00,342.43 210.70,342.24 211.40,342.35 212.10,342.18 212.80,342.42 213.50,342.27 214.20,342.25 214.90,342.35 215.60,342.33 216.30,342.23 217.00,342.19 217.70,342.32 218.40,342.16 219.10,342.41 219.80,342.25 220.50,342.20 221.20,342.25 221.90,342.18 222.60,342.24 223.30,342.31 224.00,342.27 224.70,342.25 225.40,342.24 226.10,342.30 226.80,342.38 227.50,342.28 228.20,342.38 228.90,342.29 229.60,342.19 230.30,342.20 231.00,342.40 231.70,342.29 232.40,342.26 233.10,342.30 233.80,342.40 234.50,342.26 235.20,342.26 235.90,342.26 236.60,342.15 237.30,342.31 238.00,342.29 238.70,342.30 239.40,342.29 240.10,342.29 240.80,342.36 241.50,342.21 242.20,342.44 242.90,342.18 243.60,342.41 244.30,342.20 245.00,342.39 245.70,342.23 246.40,342.17 247.10,342.31 247.80,342.40 248.50,342.40 249.20,342.41 249.90,342.44 250.60,342.17 251.30,342.26 252.00,342.18 252.70,342.38 253.40,342.29 254.10,342.37 254.80,342.39 255.50,342.45 256.20,342.35 256.90,342.41 257.60,342.31 258.30,342.17 259.00,342.42 259.70,342.18 260.40,342.18 261.10,342.40 261.80,342.23 262.50,342.35 263.20,342.16 263.90,342.21 264.60,342.36 265.30,342.16 266.00,342.30 266.70,342.43 267.40,342.21 268.10,342.36 268.80,342.37 269.50,342.34 270.20,342.38 270.90,342.36 271.60,342.15 272.30,342.21 273.00,342.31 273.70,342.44 274.40,342.22 275.10,342.33 275.80,342.19 276.50,342.40 277.20,342.28 277.90,342.31 278.60,342.35 279.30,342.19 280.00,342.37 280.70,342.39 281.40,342.41 282.10,342.23 282.80,342.22 283.50,342.20 284.20,342.42 284.90,342.28 285.60,342.27 286.30,342.31 287.00,342.36 287.70,342.25 288.40,342.25 289.10,342.38 289.80,342.38 290.50,342.24 291.20,342.17 291.90,342.43 292.60,342.37 293.30,342.33 294.00,342.27 294.70,342.44 295.40,342.28 296.10,342.21 296.80,342.18 297.50,342.26 298.20,342.33 298.90,342.26 299.60,342.43 300.30,342.34 301.00,342.29 301.70,342.35 302.40,342.33 303.10,342.34 303.80,342.30 304.50,342.31 305.20,342.30 305.90,342.40 306.60,342.21 307.30,342.39 308.00,342.24 308.70,342.40 309.40,342.17 310.10,342.30 310.80,342.28 311.50,342.36 312.20,342.21 312.90,342.23 313.60,342.19 314.30,342.32 315.00,342.32 315.70,342.15 316.40,342.20 317.10,342.21 317.80,342.44 318.50,342.29 319.20,342.32 319.90,342.24 320.60,342.35 321.30,342.39 322.00,342.35 322.70,342.15 323.40,342.28 324.10,342.30 324.80,342.16 325.50,342.39 326.20,342.25 326.90,342.24 327.60,342.34 328.30,342.33 329.00,342.30 329.70,342.41 330.40,342.31 331.10,342.25 331.80,342.17 332.50,342.32 333.20,342.26 333.90,342.31 334.60,342.25 335.30,342.15 336.00,342.16 336.70,342.20 337.40,342.18" stroke="#e22626" stroke-width="1.2" fill="none" />
<line x1="26.50" y1="429.60" x2="179.00" y2="429.60" stroke="#15822f" stroke-width="1.3" />
<line x1="185.50" y1="429.60" x2="338.00" y2="429.60" stroke="#15822f" stroke-width="1.3" />
<polyline points="26.50,430.02 27.20,429.70 27.90,429.29 28.60,429.85 29.30,429.76 30.00,429.07 30.70,429.90 31.40,429.27 32.10,430.20 32.80,429.17 33.50,429.34 34.20,429.30 34.90,430.03 35.60,429.98 36.30,429.70 37.00,429.18 37.70,429.51 38.40,429.84 39.10,429.07 39.80,430.11 40.50,430.01 41.20,430.12 41.90,429.84 42.60,429.74 43.30,430.17 44.00,429.32 44.70,429.37 45.40,429.15 46.10,429.22 46.80,429.96 47.50,429.11 48.20,429.89 48.90,429.48 49.60,430.05 50.30,429.91 51.00,429.82 51.70,430.01 52.40,429.05 53.10,429.32 53.80,429.44 54.50,429.52 55.20,429.80 55.90,430.06 56.60,429.89 57.30,430.11 58.00,429.84 58.70,429.43 59.40,429.61 60.10,429.90 60.80,429.98 61.50,429.44 62.20,429.43 62.90,429.74 63.60,429.27 64.30,430.06 65.00,429.00 65.70,429.78 66.40,429.58 67.10,429.23 67.80,429.68 68.50,429.57 69.20,430.15 69.90,430.06 70.60,429.70 71.30,430.05 72.00,430.06 72.70,429.20 73.40,429.99 74.10,430.00 74.80,430.19 75.50,429.91 76.20,429.47 76.90,429.25 77.60,429.78 78.30,429.25 79.00,429.91 79.70,429.69 80.40,429.99 81.10,429.43 81.80,429.36 82.50,430.09 83.20,429.80 83.90,429.45 84.60,429.67 85.30,429.52 86.00,429.77 86.70,429.62 87.40,429.34 88.10,430.18 88.80,430.06 89.50,429.91 90.20,429.33 90.90,429.23 91.60,429.88 92.30,429.99 93.00,429.78 93.70,429.26 94.40,429.86 95.10,429.63 95.80,429.45 96.50,429.71 97.20,429.54 97.90,429.78 98.60,429.90 99.30,430.18 100.00,429.13 100.70,429.69 101.40,430.13 102.10,429.79 102.80,429.70 103.50,430.02 104.20,429.04 104.90,429.95 105.60,429.75 106.30,429.70 107.00,429.37 107.70,429.74 108.40,429.15 109.10,429.63 109.80,429.31 110.50,430.12 111.20,429.97 111.90,429.57 112.60,429.91 113.30,429.46 114.00,429.63 114.70,429.19 115.40,430.03 116.10,429.92 116.80,429.91 117.50,429.10 118.20,429.98 118.90,429.01 119.60,429.68 120.30,429.59 121.00,429.07 121.70,429.51 122.40,430.06 123.10,429.75 123.80,429.38 124.50,429.98 125.20,429.43 125.90,430.08 126.60,429.48 127.30,429.09 128.00,430.17 128.70,429.09 129.40,429.30 130.10,429.93 130.80,429.14 131.50,429.65 132.20,430.03 132.90,429.71 133.60,429.42 134.30,429.91 135.00,429.99 135.70,429.70 136.40,429.75 137.10,429.39 137.80,429.49 138.50,430.19 139.20,430.17 139.90,429.00 140.60,429.24 141.30,429.27 142.00,429.95 142.70,429.24 143.40,429.20 144.10,429.92 144.80,429.20 145.50,430.17 146.20,429.55 146.90,430.08 147.60,429.98 148.30,429.25 149.00,429.94 149.70,429.50 150.40,429.27 151.10,429.06 151.80,429.84 152.50,429.67 153.20,429.36 153.90,430.00 154.60,429.24 155.30,429.53 156.00,429.10 156.70,429.42 157.40,430.06 158.10,429.60 158.80,429.18 159.50,429.28 160.20,429.77 160.90,429.33 161.60,430.06 162.30,429.07 163.00,430.04 163.70,429.75 164.40,429.99 165.10,429.43 165.80,429.08 166.50,429.21 167.20,429.75 167.90,429.03 168.60,429.13 169.30,429.94 170.00,430.05 170.70,430.03 171.40,430.00 172.10,429.67 172.80,430.05 173.50,429.84 174.20,429.67 174.90,429.51 175.60,429.03 176.30,429.11 177.00,429.30 177.70,429.55 178.40,429.15" stroke="#15822f" stroke-width="0.8" fill="none" />
<polyline points="185.50,430.16 186.20,429.69 186.90,429.89 187.60,430.07 188.30,429.27 189.00,430.06 189.70,430.15 190.40,429.32 191.10,429.15 191.80,429.96 192.50,430.07 193.20,429.96 193.90,429.49 194.60,429.72 195.30,429.14 196.00,429.28 196.70,429.50 197.40,429.89 198.10,429.11 198.80,430.11 199.50,429.04 200.20,430.16 200.90,429.28 201.60,429.98 202.30,429.98 203.00,430.15 203.70,429.56 204.40,429.84 205.10,429.35 205.80,430.00 206.50,429.13 207.20,430.06 207.90,429.71 208.60,429.07 209.30,430.13 210.00,429.38 210.70,429.08 211.40,429.31 212.10,429.03 212.80,429.34 213.50,429.85 214.20,430.19 214.90,429.76 215.60,430.02 216.30,429.99 217.00,429.86 217.70,429.46 218.40,429.30 219.10,429.19 219.80,429.66 220.50,429.24 221.20,429.89 221.90,429.38 222.60,429.70 223.30,429.66 224.00,429.75 224.70,429.19 225.40,429.31 226.10,429.83 226.80,429.26 227.50,429.81 228.20,430.16 228.90,429.47 229.60,430.15 230.30,429.74 231.00,430.13 231.70,429.63 232.40,429.90 233.10,429.82 233.80,429.23 234.50,429.62 235.20,429.70 235.90,429.56 236.60,429.79 237.30,430.09 238.00,429.95 238.70,429.97 239.40,429.17 240.10,429.84 240.80,429.75 241.50,430.13 242.20,429.00 242.90,429.21 243.60,430.17 244.30,429.45 245.00,429.85 245.70,429.71 246.40,429.48 247.10,429.53 247.80,429.67 248.50,430.18 249.20,429.64 249.90,429.95 250.60,429.36 251.30,429.85 252.00,429.73 252.70,429.89 253.40,430.06 254.10,429.10 254.80,430.16 255.50,429.73 256.20,429.31 256.90,429.56 257.60,429.12 258.30,429.28 259.00,430.01 259.70,429.85 260.40,430.04 261.10,429.19 261.80,429.13 262.50,429.46 263.20,429.59 263.90,429.85 264.60,429.36 265.30,429.88 266.00,429.70 266.70,429.35 267.40,429.95 268.10,429.09 268.80,429.71 269.50,429.23 270.20,429.05 270.90,429.57 271.60,429.62 272.30,429.74 273.00,429.45 273.70,430.12 274.40,429.94 275.10,429.18 275.80,429.01 276.50,430.15 277.20,429.49 277.90,429.13 278.60,429.21 279.30,429.84 280.00,429.21 280.70,429.45 281.40,429.81 282.10,429.42 282.80,429.78 283.50,430.14 284.20,429.95 284.90,429.75 285.60,429.75 286.30,429.37 287.00,429.77 287.70,429.78 288.40,429.70 289.10,429.59 289.80,429.90 290.50,429.25 291.20,429.86 291.90,430.17 292.60,429.04 293.30,429.30 294.00,430.18 294.70,429.10 295.40,429.98 296.10,429.70 296.80,429.08 297.50,429.76 298.20,429.01 298.90,430.02 299.60,429.36 300.30,430.11 301.00,430.08 301.70,429.16 302.40,429.48 303.10,429.18 303.80,429.91 304.50,429.11 305.20,429.09 305.90,429.14 306.60,430.03 307.30,429.30 308.00,429.39 308.70,429.54 309.40,429.66 310.10,429.50 310.80,430.14 311.50,429.41 312.20,429.57 312.90,430.03 313.60,429.29 314.30,429.21 315.00,430.00 315.70,429.38 316.40,430.07 317.10,429.99 317.80,429.45 318.50,429.40 319.20,429.12 319.90,430.05 320.60,429.53 321.30,429.41 322.00,429.21 322.70,429.27 323.40,430.05 324.10,429.16 324.80,429.67 325.50,429.75 326.20,429.62 326.90,429.60 327.60,429.48 328.30,429.23 329.00,429.99 329.70,430.08 330.40,429.68 331.10,429.30 331.80,430.09 332.50,429.24 333.20,429.21 333.90,429.75 334.60,430.00 335.30,429.69 336.00,429.13 336.70,430.17 337.40,429.19" stroke="#15822f" stroke-width="0.8" fill="none" />
<line x1="27.00" y1="523.10" x2="179.50" y2="523.10" stroke="#901e2e" stroke-width="1.0" />
<line x1="187.00" y1="523.10" x2="340.75" y2="523.10" stroke="#901e2e" stroke-width="1.0" />
<text x="351.60" y="87.00" font-size="9.0" fill="#111" text-anchor="start" font-weight="bold" stroke="#111" stroke-width="0.2">(5)</text>
<text x="351.60" y="174.00" font-size="9.0" fill="#111" text-anchor="start" font-weight="bold" stroke="#111" stroke-width="0.2">(4)</text>
<text x="351.60" y="260.00" font-size="9.0" fill="#111" text-anchor="start" font-weight="bold" stroke="#111" stroke-width="0.2">(3)</text>
<text x="351.60" y="346.50" font-size="9.0" fill="#111" text-anchor="start" font-weight="bold" stroke="#111" stroke-width="0.2">(2)</text>
<text x="351.60" y="433.30" font-size="9.0" fill="#111" text-anchor="start" font-weight="bold" stroke="#111" stroke-width="0.2">(1)</text>
<text x="351.60" y="527.00" font-size="9.0" fill="#111" text-anchor="start" font-weight="normal" >(A)</text>
<text x="26.40" y="537.0" font-size="8.9" fill="#000" stroke="#000" stroke-width="0.3" font-weight="bold" text-anchor="middle" textLength="14.40" lengthAdjust="spacingAndGlyphs">180</text>
<text x="52.10" y="537.0" font-size="8.9" fill="#000" stroke="#000" stroke-width="0.3" font-weight="bold" text-anchor="middle" textLength="14.40" lengthAdjust="spacingAndGlyphs">170</text>
<text x="77.80" y="537.0" font-size="8.9" fill="#000" stroke="#000" stroke-width="0.3" font-weight="bold" text-anchor="middle" textLength="14.40" lengthAdjust="spacingAndGlyphs">160</text>
<text x="103.50" y="537.0" font-size="8.9" fill="#000" stroke="#000" stroke-width="0.3" font-weight="bold" text-anchor="middle" textLength="14.40" lengthAdjust="spacingAndGlyphs">150</text>
<text x="129.20" y="537.0" font-size="8.9" fill="#000" stroke="#000" stroke-width="0.3" font-weight="bold" text-anchor="middle" textLength="14.40" lengthAdjust="spacingAndGlyphs">140</text>
<text x="154.90" y="537.0" font-size="8.9" fill="#000" stroke="#000" stroke-width="0.3" font-weight="bold" text-anchor="middle" textLength="14.40" lengthAdjust="spacingAndGlyphs">130</text>
<text x="198.65" y="537.0" font-size="8.9" fill="#000" stroke="#000" stroke-width="0.3" font-weight="bold" text-anchor="middle" textLength="9.60" lengthAdjust="spacingAndGlyphs">80</text>
<text x="222.40" y="537.0" font-size="8.9" fill="#000" stroke="#000" stroke-width="0.3" font-weight="bold" text-anchor="middle" textLength="9.60" lengthAdjust="spacingAndGlyphs">70</text>
<text x="246.15" y="537.0" font-size="8.9" fill="#000" stroke="#000" stroke-width="0.3" font-weight="bold" text-anchor="middle" textLength="9.60" lengthAdjust="spacingAndGlyphs">60</text>
<text x="269.90" y="537.0" font-size="8.9" fill="#000" stroke="#000" stroke-width="0.3" font-weight="bold" text-anchor="middle" textLength="9.60" lengthAdjust="spacingAndGlyphs">50</text>
<text x="293.65" y="537.0" font-size="8.9" fill="#000" stroke="#000" stroke-width="0.3" font-weight="bold" text-anchor="middle" textLength="9.60" lengthAdjust="spacingAndGlyphs">40</text>
<text x="317.40" y="537.0" font-size="8.9" fill="#000" stroke="#000" stroke-width="0.3" font-weight="bold" text-anchor="middle" textLength="9.60" lengthAdjust="spacingAndGlyphs">30</text>
<text x="341.15" y="537.0" font-size="8.9" fill="#000" stroke="#000" stroke-width="0.3" font-weight="bold" text-anchor="middle" textLength="9.60" lengthAdjust="spacingAndGlyphs">20</text>
<text x="178.00" y="544.90" font-size="8.6" fill="#000" text-anchor="middle" font-weight="bold" stroke="#000" stroke-width="0.3">ppm</text>
<text x="0" y="0" font-size="8.6" fill="#000" stroke="#000" stroke-width="0.25" font-weight="bold" text-anchor="middle" textLength="74.3" lengthAdjust="spacingAndGlyphs" transform="translate(14.0,300.3) rotate(-90)">relative intensity</text>
<line x1="47.90" y1="81.70" x2="47.90" y2="50.30" stroke="#000000" stroke-width="0.9" />
<line x1="52.20" y1="81.70" x2="52.20" y2="73.00" stroke="#000000" stroke-width="0.9" />
<line x1="135.40" y1="81.70" x2="135.40" y2="78.80" stroke="#000000" stroke-width="0.9" />
<line x1="150.00" y1="81.70" x2="150.00" y2="66.60" stroke="#000000" stroke-width="0.9" />
<line x1="152.40" y1="81.70" x2="152.40" y2="66.60" stroke="#000000" stroke-width="0.9" />
<line x1="151.20" y1="81.70" x2="151.20" y2="70.00" stroke="#000000" stroke-width="0.9" />
<polygon points="262.80,81.60 264.20,79.50 265.20,77.20 266.30,78.30 267.30,77.20 268.60,76.80 269.60,78.80 271.20,81.60" fill="#000000" stroke="none"/>
<polygon points="249.20,81.60 250.20,79.00 251.20,80.20 254.80,80.40 255.60,79.30 256.50,81.60" fill="#000000" stroke="none"/>
<line x1="250.40" y1="81.70" x2="250.40" y2="73.30" stroke="#000000" stroke-width="0.9" />
<line x1="255.40" y1="81.70" x2="255.40" y2="76.00" stroke="#000000" stroke-width="0.9" />
<line x1="257.40" y1="81.70" x2="257.40" y2="69.70" stroke="#000000" stroke-width="0.9" />
<line x1="265.40" y1="81.70" x2="265.40" y2="68.90" stroke="#000000" stroke-width="0.9" />
<line x1="266.40" y1="81.70" x2="266.40" y2="71.00" stroke="#000000" stroke-width="0.9" />
<line x1="267.80" y1="81.70" x2="267.80" y2="64.00" stroke="#000000" stroke-width="0.9" />
<line x1="269.30" y1="81.70" x2="269.30" y2="68.10" stroke="#000000" stroke-width="0.9" />
<line x1="296.50" y1="81.70" x2="296.50" y2="64.20" stroke="#000000" stroke-width="0.9" />
<line x1="299.80" y1="81.70" x2="299.80" y2="71.80" stroke="#000000" stroke-width="0.9" />
<line x1="328.90" y1="81.70" x2="328.90" y2="71.00" stroke="#000000" stroke-width="0.9" />
<line x1="278.00" y1="81.70" x2="278.00" y2="79.00" stroke="#000000" stroke-width="0.9" />
<line x1="244.00" y1="81.70" x2="244.00" y2="79.50" stroke="#000000" stroke-width="0.9" />
<line x1="312.00" y1="81.70" x2="312.00" y2="80.00" stroke="#000000" stroke-width="0.9" />
<rect x="290.20" y="5.70" width="1.40" height="76.00" fill="#000000"/>
<rect x="289.80" y="33.00" width="2.20" height="48.70" fill="#000000"/>
<rect x="289.35" y="65.00" width="3.10" height="16.70" fill="#000000"/>
<polygon points="289.35,76.00 292.45,76.00 293.00,82.20 288.80,82.20" fill="#000000" stroke="none"/>
<text x="42.90" y="47.05" font-size="5.7" fill="#000000" stroke="#000000" stroke-width="0.18" textLength="8.92" lengthAdjust="spacingAndGlyphs">C21</text>
<text x="49.80" y="70.05" font-size="5.7" fill="#000000" stroke="#000000" stroke-width="0.18" textLength="8.92" lengthAdjust="spacingAndGlyphs">C25</text>
<text x="130.90" y="76.35" font-size="5.7" fill="#000000" stroke="#000000" stroke-width="0.18" textLength="8.92" lengthAdjust="spacingAndGlyphs">C15</text>
<text x="139.20" y="69.05" font-size="5.7" fill="#000000" stroke="#000000" stroke-width="0.18" textLength="8.92" lengthAdjust="spacingAndGlyphs">C17</text>
<text x="146.80" y="62.55" font-size="5.7" fill="#000000" stroke="#000000" stroke-width="0.18" textLength="8.92" lengthAdjust="spacingAndGlyphs">C18</text>
<text x="153.50" y="69.05" font-size="5.7" fill="#000000" stroke="#000000" stroke-width="0.18" textLength="8.92" lengthAdjust="spacingAndGlyphs">C16</text>
<text x="238.80" y="76.25" font-size="5.7" fill="#000000" stroke="#000000" stroke-width="0.18" textLength="8.92" lengthAdjust="spacingAndGlyphs">C14</text>
<text x="243.60" y="71.05" font-size="5.7" fill="#000000" stroke="#000000" stroke-width="0.18" textLength="8.92" lengthAdjust="spacingAndGlyphs">C19</text>
<text x="248.90" y="65.35" font-size="5.7" fill="#000000" stroke="#000000" stroke-width="0.18" textLength="8.92" lengthAdjust="spacingAndGlyphs">C24</text>
<text x="254.00" y="60.05" font-size="5.7" fill="#000000" stroke="#000000" stroke-width="0.18" textLength="8.92" lengthAdjust="spacingAndGlyphs">C20</text>
<text x="263.20" y="62.25" font-size="5.7" fill="#000000" stroke="#000000" stroke-width="0.18" textLength="6.22" lengthAdjust="spacingAndGlyphs">C2</text>
<text x="259.70" y="66.85" font-size="5.7" fill="#000000" stroke="#000000" stroke-width="0.18" textLength="6.22" lengthAdjust="spacingAndGlyphs">C3</text>
<text x="269.80" y="66.85" font-size="5.7" fill="#000000" stroke="#000000" stroke-width="0.18" textLength="10.82" lengthAdjust="spacingAndGlyphs">do3a</text>
<text x="294.80" y="60.05" font-size="5.7" fill="#000000" stroke="#000000" stroke-width="0.18" textLength="6.22" lengthAdjust="spacingAndGlyphs">C5</text>
<text x="301.50" y="69.15" font-size="5.7" fill="#000000" stroke="#000000" stroke-width="0.18" textLength="6.22" lengthAdjust="spacingAndGlyphs">C1</text>
<text x="325.80" y="67.85" font-size="5.7" fill="#000000" stroke="#000000" stroke-width="0.18" textLength="6.22" lengthAdjust="spacingAndGlyphs">C4</text>
<line x1="44.30" y1="169.20" x2="44.30" y2="141.50" stroke="#e07a1c" stroke-width="0.9" />
<line x1="45.00" y1="169.20" x2="45.00" y2="147.00" stroke="#e07a1c" stroke-width="0.9" />
<line x1="131.70" y1="169.20" x2="131.70" y2="157.00" stroke="#e07a1c" stroke-width="0.9" />
<line x1="142.40" y1="169.20" x2="142.40" y2="157.00" stroke="#e07a1c" stroke-width="0.9" />
<line x1="154.20" y1="169.20" x2="154.20" y2="151.30" stroke="#e07a1c" stroke-width="0.9" />
<line x1="158.00" y1="169.20" x2="158.00" y2="150.20" stroke="#e07a1c" stroke-width="0.9" />
<line x1="192.30" y1="169.20" x2="192.30" y2="124.20" stroke="#e07a1c" stroke-width="0.9" />
<line x1="193.10" y1="169.20" x2="193.10" y2="135.40" stroke="#e07a1c" stroke-width="0.9" />
<line x1="198.30" y1="169.20" x2="198.30" y2="136.00" stroke="#e07a1c" stroke-width="0.9" />
<line x1="248.70" y1="169.20" x2="248.70" y2="161.30" stroke="#e07a1c" stroke-width="0.9" />
<line x1="250.00" y1="169.20" x2="250.00" y2="160.00" stroke="#e07a1c" stroke-width="0.9" />
<line x1="253.00" y1="169.20" x2="253.00" y2="161.00" stroke="#e07a1c" stroke-width="0.9" />
<line x1="254.50" y1="169.20" x2="254.50" y2="156.50" stroke="#e07a1c" stroke-width="0.9" />
<line x1="264.30" y1="169.20" x2="264.30" y2="163.50" stroke="#e07a1c" stroke-width="0.9" />
<line x1="315.80" y1="169.20" x2="315.80" y2="161.50" stroke="#e07a1c" stroke-width="0.9" />
<line x1="320.50" y1="169.20" x2="320.50" y2="91.60" stroke="#e07a1c" stroke-width="0.9" />
<rect x="290.60" y="90.70" width="2.00" height="78.50" fill="#e07a1c"/>
<rect x="289.95" y="108.80" width="3.30" height="60.40" fill="#e07a1c"/>
<polygon points="289.95,158.00 293.25,158.00 294.35,169.70 288.85,169.70" fill="#e07a1c" stroke="none"/>
<text x="33.20" y="139.25" font-size="5.7" fill="#e07a1c" stroke="#e07a1c" stroke-width="0.18" textLength="8.92" lengthAdjust="spacingAndGlyphs">C21</text>
<text x="43.00" y="136.05" font-size="5.7" fill="#e07a1c" stroke="#e07a1c" stroke-width="0.18" textLength="8.92" lengthAdjust="spacingAndGlyphs">C25</text>
<text x="128.10" y="155.05" font-size="5.7" fill="#e07a1c" stroke="#e07a1c" stroke-width="0.18" textLength="8.92" lengthAdjust="spacingAndGlyphs">C15</text>
<text x="140.00" y="155.05" font-size="5.7" fill="#e07a1c" stroke="#e07a1c" stroke-width="0.18" textLength="8.92" lengthAdjust="spacingAndGlyphs">C18</text>
<text x="149.30" y="149.05" font-size="5.7" fill="#e07a1c" stroke="#e07a1c" stroke-width="0.18" textLength="8.92" lengthAdjust="spacingAndGlyphs">C17</text>
<text x="159.30" y="148.35" font-size="5.7" fill="#e07a1c" stroke="#e07a1c" stroke-width="0.18" textLength="8.92" lengthAdjust="spacingAndGlyphs">C16</text>
<text x="182.30" y="121.55" font-size="5.7" fill="#e07a1c" stroke="#e07a1c" stroke-width="0.18" textLength="19.19" lengthAdjust="spacingAndGlyphs">C22,C26</text>
<text x="237.80" y="164.55" font-size="5.7" fill="#e07a1c" stroke="#e07a1c" stroke-width="0.18" textLength="8.92" lengthAdjust="spacingAndGlyphs">C14</text>
<text x="242.30" y="157.05" font-size="5.7" fill="#e07a1c" stroke="#e07a1c" stroke-width="0.18" textLength="8.92" lengthAdjust="spacingAndGlyphs">C19</text>
<text x="247.40" y="149.85" font-size="5.7" fill="#e07a1c" stroke="#e07a1c" stroke-width="0.18" textLength="6.22" lengthAdjust="spacingAndGlyphs">C2</text>
<text x="251.10" y="142.55" font-size="5.7" fill="#e07a1c" stroke="#e07a1c" stroke-width="0.18" textLength="8.92" lengthAdjust="spacingAndGlyphs">C20</text>
<text x="255.60" y="152.05" font-size="5.7" fill="#e07a1c" stroke="#e07a1c" stroke-width="0.18" textLength="8.92" lengthAdjust="spacingAndGlyphs">C24</text>
<text x="262.80" y="160.05" font-size="5.7" fill="#e07a1c" stroke="#e07a1c" stroke-width="0.18" textLength="6.22" lengthAdjust="spacingAndGlyphs">C3</text>
<text x="271.10" y="165.85" font-size="5.7" fill="#e07a1c" stroke="#e07a1c" stroke-width="0.18" textLength="10.82" lengthAdjust="spacingAndGlyphs">do3a</text>
<text x="297.80" y="102.35" font-size="5.7" fill="#e07a1c" stroke="#e07a1c" stroke-width="0.18" textLength="13.78" lengthAdjust="spacingAndGlyphs">C5,C1</text>
<text x="321.90" y="102.35" font-size="5.7" fill="#e07a1c" stroke="#e07a1c" stroke-width="0.18" textLength="19.19" lengthAdjust="spacingAndGlyphs">C23,C27</text>
<text x="312.30" y="157.05" font-size="5.7" fill="#e07a1c" stroke="#e07a1c" stroke-width="0.18" textLength="6.22" lengthAdjust="spacingAndGlyphs">C4</text>
<line x1="43.80" y1="255.50" x2="43.80" y2="244.50" stroke="#22389a" stroke-width="0.9" />
<line x1="45.30" y1="255.50" x2="45.30" y2="244.50" stroke="#22389a" stroke-width="0.9" />
<line x1="58.00" y1="255.50" x2="58.00" y2="215.50" stroke="#22389a" stroke-width="0.9" />
<line x1="58.80" y1="255.50" x2="58.80" y2="230.00" stroke="#22389a" stroke-width="0.9" />
<line x1="133.00" y1="255.50" x2="133.00" y2="249.50" stroke="#22389a" stroke-width="0.9" />
<line x1="140.80" y1="255.50" x2="140.80" y2="247.50" stroke="#22389a" stroke-width="0.9" />
<line x1="143.00" y1="255.50" x2="143.00" y2="221.30" stroke="#22389a" stroke-width="0.9" />
<line x1="150.00" y1="255.50" x2="150.00" y2="218.00" stroke="#22389a" stroke-width="0.9" />
<line x1="154.50" y1="255.50" x2="154.50" y2="244.30" stroke="#22389a" stroke-width="0.9" />
<line x1="158.30" y1="255.50" x2="158.30" y2="243.30" stroke="#22389a" stroke-width="0.9" />
<line x1="172.00" y1="255.50" x2="172.00" y2="219.50" stroke="#22389a" stroke-width="0.9" />
<line x1="192.50" y1="255.50" x2="192.50" y2="223.00" stroke="#22389a" stroke-width="0.9" />
<line x1="193.30" y1="255.50" x2="193.30" y2="239.50" stroke="#22389a" stroke-width="0.9" />
<line x1="198.80" y1="255.50" x2="198.80" y2="240.50" stroke="#22389a" stroke-width="0.9" />
<line x1="249.30" y1="255.50" x2="249.30" y2="252.00" stroke="#22389a" stroke-width="0.9" />
<line x1="250.80" y1="255.50" x2="250.80" y2="252.00" stroke="#22389a" stroke-width="0.9" />
<line x1="254.50" y1="255.50" x2="254.50" y2="247.00" stroke="#22389a" stroke-width="0.9" />
<line x1="265.80" y1="255.50" x2="265.80" y2="248.80" stroke="#22389a" stroke-width="0.9" />
<line x1="301.50" y1="255.50" x2="301.50" y2="245.00" stroke="#22389a" stroke-width="0.9" />
<line x1="302.30" y1="255.50" x2="302.30" y2="249.50" stroke="#22389a" stroke-width="0.9" />
<line x1="320.10" y1="255.50" x2="320.10" y2="250.00" stroke="#22389a" stroke-width="0.9" />
<line x1="320.80" y1="255.50" x2="320.80" y2="177.50" stroke="#22389a" stroke-width="0.9" />
<line x1="326.30" y1="255.50" x2="326.30" y2="246.30" stroke="#22389a" stroke-width="0.9" />
<rect x="291.70" y="176.20" width="1.40" height="79.30" fill="#22389a"/>
<rect x="291.30" y="213.00" width="2.20" height="42.50" fill="#22389a"/>
<rect x="290.85" y="242.00" width="3.10" height="13.50" fill="#22389a"/>
<polygon points="290.85,252.00 293.95,252.00 294.50,256.00 290.30,256.00" fill="#22389a" stroke="none"/>
<text x="38.60" y="214.55" font-size="5.7" fill="#22389a" stroke="#22389a" stroke-width="0.18" textLength="16.49" lengthAdjust="spacingAndGlyphs">C10,C6</text>
<text x="34.10" y="239.55" font-size="5.7" fill="#22389a" stroke="#22389a" stroke-width="0.18" textLength="8.92" lengthAdjust="spacingAndGlyphs">C21</text>
<text x="45.60" y="241.55" font-size="5.7" fill="#22389a" stroke="#22389a" stroke-width="0.18" textLength="8.92" lengthAdjust="spacingAndGlyphs">C25</text>
<text x="122.80" y="253.35" font-size="5.7" fill="#22389a" stroke="#22389a" stroke-width="0.18" textLength="8.92" lengthAdjust="spacingAndGlyphs">C15</text>
<text x="133.60" y="245.85" font-size="5.7" fill="#22389a" stroke="#22389a" stroke-width="0.18" textLength="8.92" lengthAdjust="spacingAndGlyphs">C18</text>
<text x="131.80" y="218.35" font-size="5.7" fill="#22389a" stroke="#22389a" stroke-width="0.18" textLength="16.49" lengthAdjust="spacingAndGlyphs">C9,C13</text>
<text x="143.00" y="210.95" font-size="5.7" fill="#22389a" stroke="#22389a" stroke-width="0.18" textLength="16.12" lengthAdjust="spacingAndGlyphs">C7,C11</text>
<text x="151.10" y="238.35" font-size="5.7" fill="#22389a" stroke="#22389a" stroke-width="0.18" textLength="8.92" lengthAdjust="spacingAndGlyphs">C17</text>
<text x="159.80" y="240.85" font-size="5.7" fill="#22389a" stroke="#22389a" stroke-width="0.18" textLength="8.92" lengthAdjust="spacingAndGlyphs">C16</text>
<text x="164.30" y="216.35" font-size="5.7" fill="#22389a" stroke="#22389a" stroke-width="0.18" textLength="16.49" lengthAdjust="spacingAndGlyphs">C8,C12</text>
<text x="183.60" y="219.05" font-size="5.7" fill="#22389a" stroke="#22389a" stroke-width="0.18" textLength="19.19" lengthAdjust="spacingAndGlyphs">C22,C26</text>
<text x="238.60" y="251.55" font-size="5.7" fill="#22389a" stroke="#22389a" stroke-width="0.18" textLength="8.92" lengthAdjust="spacingAndGlyphs">C19</text>
<text x="246.00" y="247.05" font-size="5.7" fill="#22389a" stroke="#22389a" stroke-width="0.18" textLength="8.92" lengthAdjust="spacingAndGlyphs">C14</text>
<text x="251.80" y="241.05" font-size="5.7" fill="#22389a" stroke="#22389a" stroke-width="0.18" textLength="8.92" lengthAdjust="spacingAndGlyphs">C20</text>
<text x="256.10" y="250.05" font-size="5.7" fill="#22389a" stroke="#22389a" stroke-width="0.18" textLength="8.92" lengthAdjust="spacingAndGlyphs">C24</text>
<text x="261.80" y="243.35" font-size="5.7" fill="#22389a" stroke="#22389a" stroke-width="0.18" textLength="13.78" lengthAdjust="spacingAndGlyphs">C2,C3</text>
<text x="269.60" y="251.65" font-size="5.7" fill="#22389a" stroke="#22389a" stroke-width="0.18" textLength="10.82" lengthAdjust="spacingAndGlyphs">do3a</text>
<text x="296.30" y="241.55" font-size="5.7" fill="#22389a" stroke="#22389a" stroke-width="0.18" textLength="13.78" lengthAdjust="spacingAndGlyphs">C5,C1</text>
<text x="322.60" y="183.35" font-size="5.7" fill="#22389a" stroke="#22389a" stroke-width="0.18" textLength="19.19" lengthAdjust="spacingAndGlyphs">C23,C27</text>
<text x="323.60" y="244.05" font-size="5.7" fill="#22389a" stroke="#22389a" stroke-width="0.18" textLength="6.22" lengthAdjust="spacingAndGlyphs">C4</text>
<line x1="58.00" y1="342.30" x2="58.00" y2="306.30" stroke="#e22626" stroke-width="0.9" />
<line x1="130.00" y1="342.30" x2="130.00" y2="321.20" stroke="#e22626" stroke-width="0.9" />
<line x1="138.80" y1="342.30" x2="138.80" y2="322.50" stroke="#e22626" stroke-width="0.9" />
<line x1="143.30" y1="342.30" x2="143.30" y2="287.50" stroke="#e22626" stroke-width="0.9" />
<line x1="150.20" y1="342.30" x2="150.20" y2="281.80" stroke="#e22626" stroke-width="0.9" />
<line x1="157.00" y1="342.30" x2="157.00" y2="297.50" stroke="#e22626" stroke-width="0.9" />
<line x1="172.50" y1="342.30" x2="172.50" y2="271.30" stroke="#e22626" stroke-width="0.9" />
<line x1="251.80" y1="342.30" x2="251.80" y2="329.50" stroke="#e22626" stroke-width="0.9" />
<line x1="255.80" y1="342.30" x2="255.80" y2="333.00" stroke="#e22626" stroke-width="0.9" />
<line x1="265.80" y1="342.30" x2="265.80" y2="325.50" stroke="#e22626" stroke-width="0.9" />
<line x1="301.30" y1="342.30" x2="301.30" y2="323.80" stroke="#e22626" stroke-width="0.9" />
<line x1="304.00" y1="342.30" x2="304.00" y2="322.50" stroke="#e22626" stroke-width="0.9" />
<line x1="325.30" y1="342.30" x2="325.30" y2="324.50" stroke="#e22626" stroke-width="0.9" />
<rect x="291.10" y="262.90" width="2.00" height="79.40" fill="#e22626"/>
<rect x="290.80" y="291.40" width="2.60" height="50.90" fill="#e22626"/>
<rect x="290.35" y="326.00" width="3.50" height="16.30" fill="#e22626"/>
<polygon points="290.35,335.00 293.85,335.00 294.40,342.80 289.80,342.80" fill="#e22626" stroke="none"/>
<text x="49.80" y="302.05" font-size="5.7" fill="#e22626" stroke="#e22626" stroke-width="0.18" textLength="16.49" lengthAdjust="spacingAndGlyphs">C10,C6</text>
<text x="123.60" y="317.05" font-size="5.7" fill="#e22626" stroke="#e22626" stroke-width="0.18" textLength="8.92" lengthAdjust="spacingAndGlyphs">C18</text>
<text x="134.30" y="318.35" font-size="5.7" fill="#e22626" stroke="#e22626" stroke-width="0.18" textLength="8.92" lengthAdjust="spacingAndGlyphs">C15</text>
<text x="131.10" y="282.85" font-size="5.7" fill="#e22626" stroke="#e22626" stroke-width="0.18" textLength="16.49" lengthAdjust="spacingAndGlyphs">C9,C13</text>
<text x="142.30" y="275.35" font-size="5.7" fill="#e22626" stroke="#e22626" stroke-width="0.18" textLength="16.12" lengthAdjust="spacingAndGlyphs">C7,C11</text>
<text x="151.80" y="294.55" font-size="5.7" fill="#e22626" stroke="#e22626" stroke-width="0.18" textLength="19.19" lengthAdjust="spacingAndGlyphs">C16,C17</text>
<text x="175.30" y="271.55" font-size="5.7" fill="#e22626" stroke="#e22626" stroke-width="0.18" textLength="16.49" lengthAdjust="spacingAndGlyphs">C8,C12</text>
<text x="246.80" y="324.55" font-size="5.7" fill="#e22626" stroke="#e22626" stroke-width="0.18" textLength="8.92" lengthAdjust="spacingAndGlyphs">C14</text>
<text x="261.10" y="319.55" font-size="5.7" fill="#e22626" stroke="#e22626" stroke-width="0.18" textLength="13.78" lengthAdjust="spacingAndGlyphs">C2,C3</text>
<text x="296.80" y="317.85" font-size="5.7" fill="#e22626" stroke="#e22626" stroke-width="0.18" textLength="13.78" lengthAdjust="spacingAndGlyphs">C5,C1</text>
<text x="306.80" y="324.55" font-size="5.7" fill="#e22626" stroke="#e22626" stroke-width="0.18" textLength="8.92" lengthAdjust="spacingAndGlyphs">C19</text>
<text x="323.60" y="318.35" font-size="5.7" fill="#e22626" stroke="#e22626" stroke-width="0.18" textLength="6.22" lengthAdjust="spacingAndGlyphs">C4</text>
<line x1="57.00" y1="429.60" x2="57.00" y2="398.80" stroke="#15822f" stroke-width="0.9" />
<line x1="142.80" y1="429.60" x2="142.80" y2="375.00" stroke="#15822f" stroke-width="0.9" />
<line x1="149.50" y1="429.60" x2="149.50" y2="398.00" stroke="#15822f" stroke-width="0.9" />
<line x1="171.80" y1="429.60" x2="171.80" y2="364.50" stroke="#15822f" stroke-width="0.9" />
<line x1="274.40" y1="429.60" x2="274.40" y2="407.00" stroke="#15822f" stroke-width="0.55" />
<line x1="275.80" y1="429.60" x2="275.80" y2="407.00" stroke="#15822f" stroke-width="0.55" />
<line x1="277.10" y1="429.60" x2="277.10" y2="407.00" stroke="#15822f" stroke-width="0.55" />
<line x1="290.40" y1="429.60" x2="290.40" y2="411.30" stroke="#15822f" stroke-width="0.9" />
<line x1="297.50" y1="429.60" x2="297.50" y2="411.30" stroke="#15822f" stroke-width="0.9" />
<line x1="300.80" y1="429.60" x2="300.80" y2="412.00" stroke="#15822f" stroke-width="0.9" />
<line x1="318.30" y1="429.60" x2="318.30" y2="406.30" stroke="#15822f" stroke-width="0.9" />
<rect x="291.65" y="351.70" width="1.30" height="77.90" fill="#15822f"/>
<rect x="290.80" y="370.40" width="3.00" height="59.20" fill="#15822f"/>
<rect x="290.30" y="409.80" width="4.00" height="19.80" fill="#15822f"/>
<polygon points="290.30,422.00 294.30,422.00 294.95,430.10 289.65,430.10" fill="#15822f" stroke="none"/>
<text x="48.60" y="394.55" font-size="5.7" fill="#15822f" stroke="#15822f" stroke-width="0.18" textLength="16.49" lengthAdjust="spacingAndGlyphs">C6,C10</text>
<text x="133.60" y="371.55" font-size="5.7" fill="#15822f" stroke="#15822f" stroke-width="0.18" textLength="16.49" lengthAdjust="spacingAndGlyphs">C9,C13</text>
<text x="146.10" y="394.05" font-size="5.7" fill="#15822f" stroke="#15822f" stroke-width="0.18" textLength="16.12" lengthAdjust="spacingAndGlyphs">C7,C11</text>
<text x="164.30" y="360.05" font-size="5.7" fill="#15822f" stroke="#15822f" stroke-width="0.18" textLength="16.49" lengthAdjust="spacingAndGlyphs">C8,C12</text>
<text x="268.60" y="402.05" font-size="5.7" fill="#15822f" stroke="#15822f" stroke-width="0.18" textLength="13.78" lengthAdjust="spacingAndGlyphs">C2 C3</text>
<text x="294.80" y="406.55" font-size="5.7" fill="#15822f" stroke="#15822f" stroke-width="0.18" textLength="6.22" lengthAdjust="spacingAndGlyphs">C1</text>
<text x="300.60" y="409.55" font-size="5.7" fill="#15822f" stroke="#15822f" stroke-width="0.18" textLength="6.22" lengthAdjust="spacingAndGlyphs">C5</text>
<text x="316.30" y="401.55" font-size="5.7" fill="#15822f" stroke="#15822f" stroke-width="0.18" textLength="6.22" lengthAdjust="spacingAndGlyphs">C4</text>
<line x1="263.20" y1="523.10" x2="263.20" y2="461.30" stroke="#901e2e" stroke-width="0.9" />
<line x1="276.30" y1="523.10" x2="276.30" y2="445.00" stroke="#901e2e" stroke-width="0.9" />
<line x1="289.80" y1="523.10" x2="289.80" y2="452.00" stroke="#901e2e" stroke-width="0.9" />
<line x1="293.50" y1="523.10" x2="293.50" y2="462.50" stroke="#901e2e" stroke-width="0.9" />
<line x1="308.20" y1="523.10" x2="308.20" y2="468.80" stroke="#901e2e" stroke-width="0.9" />
<polygon points="293.30,505.00 294.60,505.00 295.80,515.00 296.20,523.00 293.20,523.00" fill="#901e2e" stroke="none"/>
<text x="258.60" y="456.35" font-size="5.7" fill="#901e2e" stroke="#901e2e" stroke-width="0.18" textLength="6.22" lengthAdjust="spacingAndGlyphs">C2</text>
<text x="271.80" y="441.05" font-size="5.7" fill="#901e2e" stroke="#901e2e" stroke-width="0.18" textLength="6.22" lengthAdjust="spacingAndGlyphs">C3</text>
<text x="285.40" y="447.05" font-size="5.7" fill="#901e2e" stroke="#901e2e" stroke-width="0.18" textLength="6.22" lengthAdjust="spacingAndGlyphs">C1</text>
<text x="291.80" y="460.05" font-size="5.7" fill="#901e2e" stroke="#901e2e" stroke-width="0.18" textLength="6.22" lengthAdjust="spacingAndGlyphs">C5</text>
<text x="303.80" y="464.55" font-size="5.7" fill="#901e2e" stroke="#901e2e" stroke-width="0.18" textLength="6.22" lengthAdjust="spacingAndGlyphs">C4</text>
<polyline points="81.20,11.20 84.40,13.40 89.00,10.50 94.00,12.90" stroke="#000000" stroke-width="0.75" fill="none" stroke-linejoin="round"/>
<polyline points="94.00,12.90 98.80,10.50 104.60,13.40 109.80,10.50 114.50,12.80" stroke="#000000" stroke-width="0.75" fill="none" stroke-linejoin="round"/>
<text x="72.60" y="11.98" font-size="4.4" fill="#fff" text-anchor="start" stroke="#fff" stroke-width="1.0">H<tspan font-size="3.17" dy="1.1">2</tspan><tspan dy="-1.1">N</tspan></text>
<text x="72.60" y="11.98" font-size="4.4" fill="#000000" text-anchor="start" stroke="#000000" stroke-width="0.1">H<tspan font-size="3.17" dy="1.1">2</tspan><tspan dy="-1.1">N</tspan></text>
<text x="115.00" y="14.88" font-size="4.4" fill="#fff" text-anchor="start" stroke="#fff" stroke-width="1.0">NH<tspan font-size="3.17" dy="1.1">2</tspan><tspan dy="-1.1"></tspan></text>
<text x="115.00" y="14.88" font-size="4.4" fill="#000000" text-anchor="start" stroke="#000000" stroke-width="0.1">NH<tspan font-size="3.17" dy="1.1">2</tspan><tspan dy="-1.1"></tspan></text>
<polyline points="94.00,12.90 94.60,15.90 95.70,20.90 98.35,24.80" stroke="#000000" stroke-width="0.75" fill="none" stroke-linejoin="round"/>
<polyline points="107.50,30.10 104.45,35.38 98.35,35.38 95.30,30.10 98.35,24.82 104.45,24.82 107.50,30.10" stroke="#000000" stroke-width="0.75" fill="none" stroke-linejoin="round"/>
<polyline points="102.98,33.80 99.82,33.80" stroke="#000000" stroke-width="0.75" fill="none" stroke-linejoin="round"/>
<polyline points="97.41,29.62 98.99,26.88" stroke="#000000" stroke-width="0.75" fill="none" stroke-linejoin="round"/>
<polyline points="103.81,26.88 105.39,29.62" stroke="#000000" stroke-width="0.75" fill="none" stroke-linejoin="round"/>
<polyline points="104.45,35.40 107.50,40.20 103.50,48.70" stroke="#000000" stroke-width="0.75" fill="none" stroke-linejoin="round"/>
<polyline points="88.70,49.20 92.00,42.70 100.90,42.70 103.30,49.20 109.00,53.00 109.00,59.90 103.30,63.60 100.90,69.70 92.00,69.70 89.00,63.60 83.30,59.90 83.30,53.00 88.70,49.20" stroke="#000000" stroke-width="0.75" fill="none" stroke-linejoin="round"/>
<text x="88.70" y="50.75" font-size="4.3" fill="#fff" text-anchor="middle" stroke="#fff" stroke-width="1.0">N</text>
<text x="88.70" y="50.75" font-size="4.3" fill="#000000" text-anchor="middle" stroke="#000000" stroke-width="0.1">N</text>
<text x="103.30" y="50.75" font-size="4.3" fill="#fff" text-anchor="middle" stroke="#fff" stroke-width="1.0">N</text>
<text x="103.30" y="50.75" font-size="4.3" fill="#000000" text-anchor="middle" stroke="#000000" stroke-width="0.1">N</text>
<text x="89.00" y="65.15" font-size="4.3" fill="#fff" text-anchor="middle" stroke="#fff" stroke-width="1.0">N</text>
<text x="89.00" y="65.15" font-size="4.3" fill="#000000" text-anchor="middle" stroke="#000000" stroke-width="0.1">N</text>
<text x="103.30" y="65.15" font-size="4.3" fill="#fff" text-anchor="middle" stroke="#fff" stroke-width="1.0">N</text>
<text x="103.30" y="65.15" font-size="4.3" fill="#000000" text-anchor="middle" stroke="#000000" stroke-width="0.1">N</text>
<text x="100.60" y="23.67" font-size="4.35" fill="#000000" text-anchor="middle">15</text>
<text x="107.10" y="23.67" font-size="4.35" fill="#000000" text-anchor="middle">16</text>
<text x="111.20" y="30.97" font-size="4.35" fill="#000000" text-anchor="middle">17</text>
<text x="109.30" y="36.27" font-size="4.35" fill="#000000" text-anchor="middle">18</text>
<text x="111.20" y="41.57" font-size="4.35" fill="#000000" text-anchor="middle">19</text>
<polyline points="80.00,44.70 83.00,44.60 87.60,48.30" stroke="#000000" stroke-width="0.75" fill="none" stroke-linejoin="round"/>
<text x="79.80" y="47.68" font-size="4.4" fill="#fff" text-anchor="end" stroke="#fff" stroke-width="1.0">HOOC</text>
<text x="79.80" y="47.68" font-size="4.4" fill="#000000" text-anchor="end" stroke="#000000" stroke-width="0.1">HOOC</text>
<polyline points="78.50,66.20 83.30,66.50 87.90,64.60" stroke="#000000" stroke-width="0.75" fill="none" stroke-linejoin="round"/>
<text x="78.30" y="67.78" font-size="4.4" fill="#fff" text-anchor="end" stroke="#fff" stroke-width="1.0">HOOC</text>
<text x="78.30" y="67.78" font-size="4.4" fill="#000000" text-anchor="end" stroke="#000000" stroke-width="0.1">HOOC</text>
<polyline points="104.30,64.60 107.10,66.90 111.70,66.70" stroke="#000000" stroke-width="0.75" fill="none" stroke-linejoin="round"/>
<text x="111.90" y="67.88" font-size="4.4" fill="#fff" text-anchor="start" stroke="#fff" stroke-width="1.0">COOH</text>
<text x="111.90" y="67.88" font-size="4.4" fill="#000000" text-anchor="start" stroke="#000000" stroke-width="0.1">COOH</text>
<text x="74.90" y="73.67" font-size="4.35" fill="#000000" text-anchor="start">25 24</text>
<text x="106.00" y="73.67" font-size="4.35" fill="#000000" text-anchor="start">20 21</text>
<text x="94.00" y="14.45" font-size="4.3" fill="#fff" text-anchor="middle" stroke="#fff" stroke-width="1.0">N</text>
<text x="94.00" y="14.45" font-size="4.3" fill="#000000" text-anchor="middle" stroke="#000000" stroke-width="0.1">N</text>
<text x="84.90" y="18.77" font-size="4.35" fill="#000000" text-anchor="middle">1</text>
<text x="89.00" y="8.47" font-size="4.35" fill="#000000" text-anchor="middle">2</text>
<text x="99.10" y="8.47" font-size="4.35" fill="#000000" text-anchor="middle">3</text>
<text x="105.20" y="18.77" font-size="4.35" fill="#000000" text-anchor="middle">4</text>
<text x="110.20" y="7.97" font-size="4.35" fill="#000000" text-anchor="middle">5</text>
<text x="99.00" y="19.87" font-size="4.35" fill="#000000" text-anchor="middle">14</text>
<polyline points="74.50,98.70 77.70,100.90 82.30,98.00 87.30,100.40" stroke="#e07a1c" stroke-width="0.75" fill="none" stroke-linejoin="round"/>
<polyline points="87.30,100.40 92.10,98.00 97.90,100.90 103.10,98.00 107.80,100.30" stroke="#e07a1c" stroke-width="0.75" fill="none" stroke-linejoin="round"/>
<text x="65.90" y="99.48" font-size="4.4" fill="#fff" text-anchor="start" stroke="#fff" stroke-width="1.0">H<tspan font-size="3.17" dy="1.1">2</tspan><tspan dy="-1.1">N</tspan></text>
<text x="65.90" y="99.48" font-size="4.4" fill="#e07a1c" text-anchor="start" stroke="#e07a1c" stroke-width="0.1">H<tspan font-size="3.17" dy="1.1">2</tspan><tspan dy="-1.1">N</tspan></text>
<text x="108.30" y="102.38" font-size="4.4" fill="#fff" text-anchor="start" stroke="#fff" stroke-width="1.0">NH<tspan font-size="3.17" dy="1.1">2</tspan><tspan dy="-1.1"></tspan></text>
<text x="108.30" y="102.38" font-size="4.4" fill="#e07a1c" text-anchor="start" stroke="#e07a1c" stroke-width="0.1">NH<tspan font-size="3.17" dy="1.1">2</tspan><tspan dy="-1.1"></tspan></text>
<polyline points="87.30,100.40 87.90,103.40 89.70,108.90 92.35,112.80" stroke="#e07a1c" stroke-width="0.75" fill="none" stroke-linejoin="round"/>
<polyline points="101.50,118.10 98.45,123.38 92.35,123.38 89.30,118.10 92.35,112.82 98.45,112.82 101.50,118.10" stroke="#e07a1c" stroke-width="0.75" fill="none" stroke-linejoin="round"/>
<polyline points="96.98,121.80 93.82,121.80" stroke="#e07a1c" stroke-width="0.75" fill="none" stroke-linejoin="round"/>
<polyline points="91.41,117.62 92.99,114.88" stroke="#e07a1c" stroke-width="0.75" fill="none" stroke-linejoin="round"/>
<polyline points="97.81,114.88 99.39,117.62" stroke="#e07a1c" stroke-width="0.75" fill="none" stroke-linejoin="round"/>
<polyline points="98.45,123.40 101.50,128.20 96.80,136.00" stroke="#e07a1c" stroke-width="0.75" fill="none" stroke-linejoin="round"/>
<polyline points="82.00,136.50 85.30,130.00 94.20,130.00 96.60,136.50 102.30,140.30 102.30,147.20 96.60,150.90 94.20,157.00 85.30,157.00 82.30,150.90 76.60,147.20 76.60,140.30 82.00,136.50" stroke="#e07a1c" stroke-width="0.75" fill="none" stroke-linejoin="round"/>
<text x="82.00" y="138.05" font-size="4.3" fill="#fff" text-anchor="middle" stroke="#fff" stroke-width="1.0">N</text>
<text x="82.00" y="138.05" font-size="4.3" fill="#e07a1c" text-anchor="middle" stroke="#e07a1c" stroke-width="0.1">N</text>
<text x="96.60" y="138.05" font-size="4.3" fill="#fff" text-anchor="middle" stroke="#fff" stroke-width="1.0">N</text>
<text x="96.60" y="138.05" font-size="4.3" fill="#e07a1c" text-anchor="middle" stroke="#e07a1c" stroke-width="0.1">N</text>
<text x="82.30" y="152.45" font-size="4.3" fill="#fff" text-anchor="middle" stroke="#fff" stroke-width="1.0">N</text>
<text x="82.30" y="152.45" font-size="4.3" fill="#e07a1c" text-anchor="middle" stroke="#e07a1c" stroke-width="0.1">N</text>
<text x="96.60" y="152.45" font-size="4.3" fill="#fff" text-anchor="middle" stroke="#fff" stroke-width="1.0">N</text>
<text x="96.60" y="152.45" font-size="4.3" fill="#e07a1c" text-anchor="middle" stroke="#e07a1c" stroke-width="0.1">N</text>
<text x="94.60" y="111.67" font-size="4.35" fill="#e07a1c" text-anchor="middle">15</text>
<text x="101.10" y="111.67" font-size="4.35" fill="#e07a1c" text-anchor="middle">16</text>
<text x="105.20" y="118.97" font-size="4.35" fill="#e07a1c" text-anchor="middle">17</text>
<text x="103.30" y="124.27" font-size="4.35" fill="#e07a1c" text-anchor="middle">18</text>
<text x="105.20" y="129.57" font-size="4.35" fill="#e07a1c" text-anchor="middle">19</text>
<polyline points="73.00,132.60 76.00,132.30 80.90,135.60" stroke="#e07a1c" stroke-width="0.75" fill="none" stroke-linejoin="round"/>
<text x="72.80" y="134.08" font-size="4.4" fill="#fff" text-anchor="end" stroke="#fff" stroke-width="1.0">t-BuOOC</text>
<text x="72.80" y="134.08" font-size="4.4" fill="#e07a1c" text-anchor="end" stroke="#e07a1c" stroke-width="0.1">t-BuOOC</text>
<polyline points="81.20,151.90 77.10,154.00 72.20,153.20" stroke="#e07a1c" stroke-width="0.75" fill="none" stroke-linejoin="round"/>
<line x1="72.70" y1="153.17" x2="72.40" y2="147.57" stroke="#e07a1c" stroke-width="0.75"/>
<line x1="71.70" y1="153.23" x2="71.40" y2="147.63" stroke="#e07a1c" stroke-width="0.75"/>
<text x="71.70" y="147.65" font-size="4.3" fill="#fff" text-anchor="middle" stroke="#fff" stroke-width="1.0">O</text>
<text x="71.70" y="147.65" font-size="4.3" fill="#e07a1c" text-anchor="middle" stroke="#e07a1c" stroke-width="0.1">O</text>
<polyline points="72.20,153.20 66.30,154.80 59.80,152.10" stroke="#e07a1c" stroke-width="0.75" fill="none" stroke-linejoin="round"/>
<text x="66.30" y="156.35" font-size="4.3" fill="#fff" text-anchor="middle" stroke="#fff" stroke-width="1.0">O</text>
<text x="66.30" y="156.35" font-size="4.3" fill="#e07a1c" text-anchor="middle" stroke="#e07a1c" stroke-width="0.1">O</text>
<polyline points="59.80,146.70 59.80,152.10 54.90,150.30" stroke="#e07a1c" stroke-width="0.75" fill="none" stroke-linejoin="round"/>
<polyline points="59.80,152.10 55.40,157.00" stroke="#e07a1c" stroke-width="0.75" fill="none" stroke-linejoin="round"/>
<text x="56.50" y="146.97" font-size="4.35" fill="#e07a1c" text-anchor="middle">27</text>
<text x="60.80" y="159.57" font-size="4.35" fill="#e07a1c" text-anchor="middle">26</text>
<text x="72.20" y="159.57" font-size="4.35" fill="#e07a1c" text-anchor="middle">25</text>
<text x="78.70" y="159.87" font-size="4.35" fill="#e07a1c" text-anchor="middle">24</text>
<polyline points="97.40,151.90 100.80,154.30 106.30,153.20" stroke="#e07a1c" stroke-width="0.75" fill="none" stroke-linejoin="round"/>
<line x1="106.80" y1="153.20" x2="106.80" y2="147.60" stroke="#e07a1c" stroke-width="0.75"/>
<line x1="105.80" y1="153.20" x2="105.80" y2="147.60" stroke="#e07a1c" stroke-width="0.75"/>
<text x="106.30" y="148.25" font-size="4.3" fill="#fff" text-anchor="middle" stroke="#fff" stroke-width="1.0">O</text>
<text x="106.30" y="148.25" font-size="4.3" fill="#e07a1c" text-anchor="middle" stroke="#e07a1c" stroke-width="0.1">O</text>
<polyline points="106.30,153.20 112.20,154.80 118.40,153.20" stroke="#e07a1c" stroke-width="0.75" fill="none" stroke-linejoin="round"/>
<text x="112.20" y="156.35" font-size="4.3" fill="#fff" text-anchor="middle" stroke="#fff" stroke-width="1.0">O</text>
<text x="112.20" y="156.35" font-size="4.3" fill="#e07a1c" text-anchor="middle" stroke="#e07a1c" stroke-width="0.1">O</text>
<polyline points="118.40,147.20 118.40,153.20 123.60,150.80" stroke="#e07a1c" stroke-width="0.75" fill="none" stroke-linejoin="round"/>
<polyline points="118.40,153.20 122.50,157.00" stroke="#e07a1c" stroke-width="0.75" fill="none" stroke-linejoin="round"/>
<text x="122.50" y="146.97" font-size="4.35" fill="#e07a1c" text-anchor="middle">23</text>
<text x="118.40" y="159.57" font-size="4.35" fill="#e07a1c" text-anchor="middle">22</text>
<text x="100.30" y="159.07" font-size="4.35" fill="#e07a1c" text-anchor="middle">20</text>
<text x="105.70" y="159.07" font-size="4.35" fill="#e07a1c" text-anchor="middle">21</text>
<text x="87.30" y="101.95" font-size="4.3" fill="#fff" text-anchor="middle" stroke="#fff" stroke-width="1.0">N</text>
<text x="87.30" y="101.95" font-size="4.3" fill="#e07a1c" text-anchor="middle" stroke="#e07a1c" stroke-width="0.1">N</text>
<text x="78.20" y="106.27" font-size="4.35" fill="#e07a1c" text-anchor="middle">1</text>
<text x="82.30" y="95.97" font-size="4.35" fill="#e07a1c" text-anchor="middle">2</text>
<text x="92.40" y="95.97" font-size="4.35" fill="#e07a1c" text-anchor="middle">3</text>
<text x="98.50" y="106.27" font-size="4.35" fill="#e07a1c" text-anchor="middle">4</text>
<text x="103.50" y="95.47" font-size="4.35" fill="#e07a1c" text-anchor="middle">5</text>
<text x="92.30" y="107.37" font-size="4.35" fill="#e07a1c" text-anchor="middle">14</text>
<polyline points="77.50,186.10 83.00,188.70 88.50,185.80 94.50,188.60 99.50,185.80 104.70,188.70 110.00,185.80 115.20,188.40" stroke="#22389a" stroke-width="0.75" fill="none" stroke-linejoin="round"/>
<polyline points="94.50,188.60 95.10,191.60 94.70,196.90 97.35,200.80" stroke="#22389a" stroke-width="0.75" fill="none" stroke-linejoin="round"/>
<polyline points="106.50,206.10 103.45,211.38 97.35,211.38 94.30,206.10 97.35,200.82 103.45,200.82 106.50,206.10" stroke="#22389a" stroke-width="0.75" fill="none" stroke-linejoin="round"/>
<polyline points="101.98,209.80 98.82,209.80" stroke="#22389a" stroke-width="0.75" fill="none" stroke-linejoin="round"/>
<polyline points="96.41,205.62 97.99,202.88" stroke="#22389a" stroke-width="0.75" fill="none" stroke-linejoin="round"/>
<polyline points="102.81,202.88 104.39,205.62" stroke="#22389a" stroke-width="0.75" fill="none" stroke-linejoin="round"/>
<polyline points="103.45,211.40 106.50,216.20 101.80,224.00" stroke="#22389a" stroke-width="0.75" fill="none" stroke-linejoin="round"/>
<polyline points="87.00,224.50 90.30,218.00 99.20,218.00 101.60,224.50 107.30,228.30 107.30,235.20 101.60,238.90 99.20,245.00 90.30,245.00 87.30,238.90 81.60,235.20 81.60,228.30 87.00,224.50" stroke="#22389a" stroke-width="0.75" fill="none" stroke-linejoin="round"/>
<text x="87.00" y="226.05" font-size="4.3" fill="#fff" text-anchor="middle" stroke="#fff" stroke-width="1.0">N</text>
<text x="87.00" y="226.05" font-size="4.3" fill="#22389a" text-anchor="middle" stroke="#22389a" stroke-width="0.1">N</text>
<text x="101.60" y="226.05" font-size="4.3" fill="#fff" text-anchor="middle" stroke="#fff" stroke-width="1.0">N</text>
<text x="101.60" y="226.05" font-size="4.3" fill="#22389a" text-anchor="middle" stroke="#22389a" stroke-width="0.1">N</text>
<text x="87.30" y="240.45" font-size="4.3" fill="#fff" text-anchor="middle" stroke="#fff" stroke-width="1.0">N</text>
<text x="87.30" y="240.45" font-size="4.3" fill="#22389a" text-anchor="middle" stroke="#22389a" stroke-width="0.1">N</text>
<text x="101.60" y="240.45" font-size="4.3" fill="#fff" text-anchor="middle" stroke="#fff" stroke-width="1.0">N</text>
<text x="101.60" y="240.45" font-size="4.3" fill="#22389a" text-anchor="middle" stroke="#22389a" stroke-width="0.1">N</text>
<text x="99.60" y="199.67" font-size="4.35" fill="#22389a" text-anchor="middle">15</text>
<text x="106.10" y="199.67" font-size="4.35" fill="#22389a" text-anchor="middle">16</text>
<text x="110.20" y="206.97" font-size="4.35" fill="#22389a" text-anchor="middle">17</text>
<text x="108.30" y="212.27" font-size="4.35" fill="#22389a" text-anchor="middle">18</text>
<text x="110.20" y="217.57" font-size="4.35" fill="#22389a" text-anchor="middle">19</text>
<polyline points="78.00,220.60 81.00,220.30 85.90,223.60" stroke="#22389a" stroke-width="0.75" fill="none" stroke-linejoin="round"/>
<text x="77.80" y="222.08" font-size="4.4" fill="#fff" text-anchor="end" stroke="#fff" stroke-width="1.0">t-BuOOC</text>
<text x="77.80" y="222.08" font-size="4.4" fill="#22389a" text-anchor="end" stroke="#22389a" stroke-width="0.1">t-BuOOC</text>
<polyline points="86.20,239.90 82.10,242.00 77.20,241.20" stroke="#22389a" stroke-width="0.75" fill="none" stroke-linejoin="round"/>
<line x1="77.70" y1="241.17" x2="77.40" y2="235.57" stroke="#22389a" stroke-width="0.75"/>
<line x1="76.70" y1="241.23" x2="76.40" y2="235.63" stroke="#22389a" stroke-width="0.75"/>
<text x="76.70" y="235.65" font-size="4.3" fill="#fff" text-anchor="middle" stroke="#fff" stroke-width="1.0">O</text>
<text x="76.70" y="235.65" font-size="4.3" fill="#22389a" text-anchor="middle" stroke="#22389a" stroke-width="0.1">O</text>
<polyline points="77.20,241.20 71.30,242.80 64.80,240.10" stroke="#22389a" stroke-width="0.75" fill="none" stroke-linejoin="round"/>
<text x="71.30" y="244.35" font-size="4.3" fill="#fff" text-anchor="middle" stroke="#fff" stroke-width="1.0">O</text>
<text x="71.30" y="244.35" font-size="4.3" fill="#22389a" text-anchor="middle" stroke="#22389a" stroke-width="0.1">O</text>
<polyline points="64.80,234.70 64.80,240.10 59.90,238.30" stroke="#22389a" stroke-width="0.75" fill="none" stroke-linejoin="round"/>
<polyline points="64.80,240.10 60.40,245.00" stroke="#22389a" stroke-width="0.75" fill="none" stroke-linejoin="round"/>
<text x="61.50" y="234.97" font-size="4.35" fill="#22389a" text-anchor="middle">27</text>
<text x="65.80" y="247.57" font-size="4.35" fill="#22389a" text-anchor="middle">26</text>
<text x="77.20" y="247.57" font-size="4.35" fill="#22389a" text-anchor="middle">25</text>
<text x="83.70" y="247.87" font-size="4.35" fill="#22389a" text-anchor="middle">24</text>
<polyline points="102.40,239.90 105.80,242.30 111.30,241.20" stroke="#22389a" stroke-width="0.75" fill="none" stroke-linejoin="round"/>
<line x1="111.80" y1="241.20" x2="111.80" y2="235.60" stroke="#22389a" stroke-width="0.75"/>
<line x1="110.80" y1="241.20" x2="110.80" y2="235.60" stroke="#22389a" stroke-width="0.75"/>
<text x="111.30" y="236.25" font-size="4.3" fill="#fff" text-anchor="middle" stroke="#fff" stroke-width="1.0">O</text>
<text x="111.30" y="236.25" font-size="4.3" fill="#22389a" text-anchor="middle" stroke="#22389a" stroke-width="0.1">O</text>
<polyline points="111.30,241.20 117.20,242.80 123.40,241.20" stroke="#22389a" stroke-width="0.75" fill="none" stroke-linejoin="round"/>
<text x="117.20" y="244.35" font-size="4.3" fill="#fff" text-anchor="middle" stroke="#fff" stroke-width="1.0">O</text>
<text x="117.20" y="244.35" font-size="4.3" fill="#22389a" text-anchor="middle" stroke="#22389a" stroke-width="0.1">O</text>
<polyline points="123.40,235.20 123.40,241.20 128.60,238.80" stroke="#22389a" stroke-width="0.75" fill="none" stroke-linejoin="round"/>
<polyline points="123.40,241.20 127.50,245.00" stroke="#22389a" stroke-width="0.75" fill="none" stroke-linejoin="round"/>
<text x="127.50" y="234.97" font-size="4.35" fill="#22389a" text-anchor="middle">23</text>
<text x="123.40" y="247.57" font-size="4.35" fill="#22389a" text-anchor="middle">22</text>
<text x="105.30" y="247.07" font-size="4.35" fill="#22389a" text-anchor="middle">20</text>
<text x="110.70" y="247.07" font-size="4.35" fill="#22389a" text-anchor="middle">21</text>
<polyline points="67.61,184.46 68.14,190.44 63.22,193.88 57.79,191.34 57.26,185.36 62.18,181.92 67.61,184.46" stroke="#22389a" stroke-width="0.75" fill="none" stroke-linejoin="round"/>
<polyline points="66.19,186.03 66.46,189.13" stroke="#22389a" stroke-width="0.75" fill="none" stroke-linejoin="round"/>
<polyline points="62.57,191.85 59.75,190.54" stroke="#22389a" stroke-width="0.75" fill="none" stroke-linejoin="round"/>
<polyline points="59.34,185.81 61.89,184.03" stroke="#22389a" stroke-width="0.75" fill="none" stroke-linejoin="round"/>
<polyline points="67.61,184.46 73.00,181.50 76.30,184.70" stroke="#22389a" stroke-width="0.75" fill="none" stroke-linejoin="round"/>
<polyline points="68.14,190.44 74.60,190.90 76.50,187.50" stroke="#22389a" stroke-width="0.75" fill="none" stroke-linejoin="round"/>
<line x1="73.49" y1="181.61" x2="74.42" y2="177.36" stroke="#22389a" stroke-width="0.75"/>
<line x1="72.51" y1="181.39" x2="73.45" y2="177.14" stroke="#22389a" stroke-width="0.75"/>
<line x1="74.15" y1="191.11" x2="76.16" y2="195.36" stroke="#22389a" stroke-width="0.75"/>
<line x1="75.05" y1="190.69" x2="77.07" y2="194.93" stroke="#22389a" stroke-width="0.75"/>
<text x="74.30" y="177.15" font-size="4.3" fill="#fff" text-anchor="middle" stroke="#fff" stroke-width="1.0">O</text>
<text x="74.30" y="177.15" font-size="4.3" fill="#22389a" text-anchor="middle" stroke="#22389a" stroke-width="0.1">O</text>
<text x="77.40" y="198.35" font-size="4.3" fill="#fff" text-anchor="middle" stroke="#fff" stroke-width="1.0">O</text>
<text x="77.40" y="198.35" font-size="4.3" fill="#22389a" text-anchor="middle" stroke="#22389a" stroke-width="0.1">O</text>
<text x="77.50" y="187.65" font-size="4.3" fill="#fff" text-anchor="middle" stroke="#fff" stroke-width="1.0">N</text>
<text x="77.50" y="187.65" font-size="4.3" fill="#22389a" text-anchor="middle" stroke="#22389a" stroke-width="0.1">N</text>
<text x="55.50" y="184.97" font-size="4.35" fill="#22389a" text-anchor="middle">9</text>
<text x="61.50" y="180.57" font-size="4.35" fill="#22389a" text-anchor="middle">8</text>
<text x="68.30" y="182.27" font-size="4.35" fill="#22389a" text-anchor="middle">7</text>
<text x="76.70" y="182.07" font-size="4.35" fill="#22389a" text-anchor="middle">6</text>
<polyline points="125.09,186.76 124.56,192.74 129.48,196.18 134.91,193.64 135.44,187.66 130.52,184.22 125.09,186.76" stroke="#22389a" stroke-width="0.75" fill="none" stroke-linejoin="round"/>
<polyline points="126.51,188.33 126.24,191.43" stroke="#22389a" stroke-width="0.75" fill="none" stroke-linejoin="round"/>
<polyline points="130.13,194.15 132.95,192.84" stroke="#22389a" stroke-width="0.75" fill="none" stroke-linejoin="round"/>
<polyline points="133.36,188.11 130.81,186.33" stroke="#22389a" stroke-width="0.75" fill="none" stroke-linejoin="round"/>
<polyline points="125.09,186.76 119.70,183.80 116.40,187.00" stroke="#22389a" stroke-width="0.75" fill="none" stroke-linejoin="round"/>
<polyline points="124.56,192.74 118.10,193.20 116.20,189.80" stroke="#22389a" stroke-width="0.75" fill="none" stroke-linejoin="round"/>
<line x1="120.19" y1="183.69" x2="119.25" y2="179.44" stroke="#22389a" stroke-width="0.75"/>
<line x1="119.21" y1="183.91" x2="118.28" y2="179.66" stroke="#22389a" stroke-width="0.75"/>
<line x1="117.65" y1="192.99" x2="115.63" y2="197.23" stroke="#22389a" stroke-width="0.75"/>
<line x1="118.55" y1="193.41" x2="116.54" y2="197.66" stroke="#22389a" stroke-width="0.75"/>
<text x="118.40" y="179.45" font-size="4.3" fill="#fff" text-anchor="middle" stroke="#fff" stroke-width="1.0">O</text>
<text x="118.40" y="179.45" font-size="4.3" fill="#22389a" text-anchor="middle" stroke="#22389a" stroke-width="0.1">O</text>
<text x="115.30" y="200.65" font-size="4.3" fill="#fff" text-anchor="middle" stroke="#fff" stroke-width="1.0">O</text>
<text x="115.30" y="200.65" font-size="4.3" fill="#22389a" text-anchor="middle" stroke="#22389a" stroke-width="0.1">O</text>
<text x="115.20" y="189.95" font-size="4.3" fill="#fff" text-anchor="middle" stroke="#fff" stroke-width="1.0">N</text>
<text x="115.20" y="189.95" font-size="4.3" fill="#22389a" text-anchor="middle" stroke="#22389a" stroke-width="0.1">N</text>
<text x="115.80" y="184.77" font-size="4.35" fill="#22389a" text-anchor="middle">10</text>
<text x="126.40" y="184.47" font-size="4.35" fill="#22389a" text-anchor="middle">11</text>
<text x="132.50" y="183.07" font-size="4.35" fill="#22389a" text-anchor="middle">12</text>
<text x="139.30" y="188.87" font-size="4.35" fill="#22389a" text-anchor="middle">13</text>
<text x="94.50" y="190.15" font-size="4.3" fill="#fff" text-anchor="middle" stroke="#fff" stroke-width="1.0">N</text>
<text x="94.50" y="190.15" font-size="4.3" fill="#22389a" text-anchor="middle" stroke="#22389a" stroke-width="0.1">N</text>
<text x="83.40" y="193.57" font-size="4.35" fill="#22389a" text-anchor="middle">1</text>
<text x="88.30" y="184.17" font-size="4.35" fill="#22389a" text-anchor="middle">2</text>
<text x="99.50" y="184.17" font-size="4.35" fill="#22389a" text-anchor="middle">3</text>
<text x="104.70" y="193.57" font-size="4.35" fill="#22389a" text-anchor="middle">4</text>
<text x="110.20" y="183.47" font-size="4.35" fill="#22389a" text-anchor="middle">5</text>
<text x="97.80" y="195.17" font-size="4.35" fill="#22389a" text-anchor="middle">14</text>
<polyline points="62.10,277.60 68.50,279.60 74.50,276.90 80.30,279.90 85.50,276.90 90.50,279.60 96.00,276.90 101.40,279.50" stroke="#e22626" stroke-width="0.75" fill="none" stroke-linejoin="round"/>
<polyline points="80.30,279.90 80.90,283.00 81.60,286.60 83.40,291.00" stroke="#e22626" stroke-width="0.75" fill="none" stroke-linejoin="round"/>
<polyline points="92.60,296.40 89.55,301.68 83.45,301.68 80.40,296.40 83.45,291.12 89.55,291.12 92.60,296.40" stroke="#e22626" stroke-width="0.75" fill="none" stroke-linejoin="round"/>
<polyline points="88.08,300.10 84.92,300.10" stroke="#e22626" stroke-width="0.75" fill="none" stroke-linejoin="round"/>
<polyline points="82.51,295.92 84.09,293.18" stroke="#e22626" stroke-width="0.75" fill="none" stroke-linejoin="round"/>
<polyline points="88.91,293.18 90.49,295.92" stroke="#e22626" stroke-width="0.75" fill="none" stroke-linejoin="round"/>
<polyline points="89.55,301.70 92.80,306.40 88.90,311.20" stroke="#e22626" stroke-width="0.75" fill="none" stroke-linejoin="round"/>
<text x="87.30" y="314.48" font-size="4.4" fill="#fff" text-anchor="middle" stroke="#fff" stroke-width="1.0">Br</text>
<text x="87.30" y="314.48" font-size="4.4" fill="#e22626" text-anchor="middle" stroke="#e22626" stroke-width="0.1">Br</text>
<polyline points="52.21,275.96 52.74,281.94 47.82,285.38 42.39,282.84 41.86,276.86 46.78,273.42 52.21,275.96" stroke="#e22626" stroke-width="0.75" fill="none" stroke-linejoin="round"/>
<polyline points="50.79,277.53 51.06,280.63" stroke="#e22626" stroke-width="0.75" fill="none" stroke-linejoin="round"/>
<polyline points="47.17,283.35 44.35,282.04" stroke="#e22626" stroke-width="0.75" fill="none" stroke-linejoin="round"/>
<polyline points="43.94,277.31 46.49,275.53" stroke="#e22626" stroke-width="0.75" fill="none" stroke-linejoin="round"/>
<polyline points="52.21,275.96 57.60,273.00 60.90,276.20" stroke="#e22626" stroke-width="0.75" fill="none" stroke-linejoin="round"/>
<polyline points="52.74,281.94 59.20,282.40 61.10,279.00" stroke="#e22626" stroke-width="0.75" fill="none" stroke-linejoin="round"/>
<line x1="58.09" y1="273.11" x2="59.02" y2="268.86" stroke="#e22626" stroke-width="0.75"/>
<line x1="57.11" y1="272.89" x2="58.05" y2="268.64" stroke="#e22626" stroke-width="0.75"/>
<line x1="58.75" y1="282.61" x2="60.76" y2="286.86" stroke="#e22626" stroke-width="0.75"/>
<line x1="59.65" y1="282.19" x2="61.67" y2="286.43" stroke="#e22626" stroke-width="0.75"/>
<text x="58.90" y="268.65" font-size="4.3" fill="#fff" text-anchor="middle" stroke="#fff" stroke-width="1.0">O</text>
<text x="58.90" y="268.65" font-size="4.3" fill="#e22626" text-anchor="middle" stroke="#e22626" stroke-width="0.1">O</text>
<text x="62.00" y="289.85" font-size="4.3" fill="#fff" text-anchor="middle" stroke="#fff" stroke-width="1.0">O</text>
<text x="62.00" y="289.85" font-size="4.3" fill="#e22626" text-anchor="middle" stroke="#e22626" stroke-width="0.1">O</text>
<text x="62.10" y="279.15" font-size="4.3" fill="#fff" text-anchor="middle" stroke="#fff" stroke-width="1.0">N</text>
<text x="62.10" y="279.15" font-size="4.3" fill="#e22626" text-anchor="middle" stroke="#e22626" stroke-width="0.1">N</text>
<text x="41.80" y="275.67" font-size="4.35" fill="#e22626" text-anchor="middle">9</text>
<text x="48.60" y="271.07" font-size="4.35" fill="#e22626" text-anchor="middle">8</text>
<text x="55.30" y="273.77" font-size="4.35" fill="#e22626" text-anchor="middle">7</text>
<text x="64.80" y="271.87" font-size="4.35" fill="#e22626" text-anchor="middle">6</text>
<polyline points="111.29,277.86 110.76,283.84 115.68,287.28 121.11,284.74 121.64,278.76 116.72,275.32 111.29,277.86" stroke="#e22626" stroke-width="0.75" fill="none" stroke-linejoin="round"/>
<polyline points="112.71,279.43 112.44,282.53" stroke="#e22626" stroke-width="0.75" fill="none" stroke-linejoin="round"/>
<polyline points="116.33,285.25 119.15,283.94" stroke="#e22626" stroke-width="0.75" fill="none" stroke-linejoin="round"/>
<polyline points="119.56,279.21 117.01,277.43" stroke="#e22626" stroke-width="0.75" fill="none" stroke-linejoin="round"/>
<polyline points="111.29,277.86 105.90,274.90 102.60,278.10" stroke="#e22626" stroke-width="0.75" fill="none" stroke-linejoin="round"/>
<polyline points="110.76,283.84 104.30,284.30 102.40,280.90" stroke="#e22626" stroke-width="0.75" fill="none" stroke-linejoin="round"/>
<line x1="106.39" y1="274.79" x2="105.45" y2="270.54" stroke="#e22626" stroke-width="0.75"/>
<line x1="105.41" y1="275.01" x2="104.48" y2="270.76" stroke="#e22626" stroke-width="0.75"/>
<line x1="103.85" y1="284.09" x2="101.83" y2="288.33" stroke="#e22626" stroke-width="0.75"/>
<line x1="104.75" y1="284.51" x2="102.74" y2="288.76" stroke="#e22626" stroke-width="0.75"/>
<text x="104.60" y="270.55" font-size="4.3" fill="#fff" text-anchor="middle" stroke="#fff" stroke-width="1.0">O</text>
<text x="104.60" y="270.55" font-size="4.3" fill="#e22626" text-anchor="middle" stroke="#e22626" stroke-width="0.1">O</text>
<text x="101.50" y="291.75" font-size="4.3" fill="#fff" text-anchor="middle" stroke="#fff" stroke-width="1.0">O</text>
<text x="101.50" y="291.75" font-size="4.3" fill="#e22626" text-anchor="middle" stroke="#e22626" stroke-width="0.1">O</text>
<text x="101.40" y="281.05" font-size="4.3" fill="#fff" text-anchor="middle" stroke="#fff" stroke-width="1.0">N</text>
<text x="101.40" y="281.05" font-size="4.3" fill="#e22626" text-anchor="middle" stroke="#e22626" stroke-width="0.1">N</text>
<text x="101.60" y="275.17" font-size="4.35" fill="#e22626" text-anchor="middle">10</text>
<text x="112.20" y="273.77" font-size="4.35" fill="#e22626" text-anchor="middle">11</text>
<text x="119.00" y="272.97" font-size="4.35" fill="#e22626" text-anchor="middle">12</text>
<text x="125.80" y="279.17" font-size="4.35" fill="#e22626" text-anchor="middle">13</text>
<text x="80.30" y="281.45" font-size="4.3" fill="#fff" text-anchor="middle" stroke="#fff" stroke-width="1.0">N</text>
<text x="80.30" y="281.45" font-size="4.3" fill="#e22626" text-anchor="middle" stroke="#e22626" stroke-width="0.1">N</text>
<text x="69.70" y="284.17" font-size="4.35" fill="#e22626" text-anchor="middle">1</text>
<text x="75.70" y="275.17" font-size="4.35" fill="#e22626" text-anchor="middle">2</text>
<text x="85.10" y="275.17" font-size="4.35" fill="#e22626" text-anchor="middle">3</text>
<text x="90.00" y="284.37" font-size="4.35" fill="#e22626" text-anchor="middle">4</text>
<text x="96.80" y="275.17" font-size="4.35" fill="#e22626" text-anchor="middle">5</text>
<text x="85.20" y="286.07" font-size="4.35" fill="#e22626" text-anchor="middle">14</text>
<text x="86.00" y="290.17" font-size="4.35" fill="#e22626" text-anchor="middle">15</text>
<text x="92.20" y="290.17" font-size="4.35" fill="#e22626" text-anchor="middle">16</text>
<text x="96.00" y="296.57" font-size="4.35" fill="#e22626" text-anchor="middle">17</text>
<text x="94.90" y="302.57" font-size="4.35" fill="#e22626" text-anchor="middle">18</text>
<text x="96.60" y="308.57" font-size="4.35" fill="#e22626" text-anchor="middle">19</text>
<polyline points="62.50,364.70 67.20,366.80 72.60,364.40 78.10,367.60 83.50,364.40 88.90,366.80 93.90,364.40 99.40,367.30" stroke="#15822f" stroke-width="0.75" fill="none" stroke-linejoin="round"/>
<polyline points="52.61,363.06 53.14,369.04 48.22,372.48 42.79,369.94 42.26,363.96 47.18,360.52 52.61,363.06" stroke="#15822f" stroke-width="0.75" fill="none" stroke-linejoin="round"/>
<polyline points="51.19,364.63 51.46,367.73" stroke="#15822f" stroke-width="0.75" fill="none" stroke-linejoin="round"/>
<polyline points="47.57,370.45 44.75,369.14" stroke="#15822f" stroke-width="0.75" fill="none" stroke-linejoin="round"/>
<polyline points="44.34,364.41 46.89,362.63" stroke="#15822f" stroke-width="0.75" fill="none" stroke-linejoin="round"/>
<polyline points="52.61,363.06 58.00,360.10 61.30,363.30" stroke="#15822f" stroke-width="0.75" fill="none" stroke-linejoin="round"/>
<polyline points="53.14,369.04 59.60,369.50 61.50,366.10" stroke="#15822f" stroke-width="0.75" fill="none" stroke-linejoin="round"/>
<line x1="58.49" y1="360.21" x2="59.42" y2="355.96" stroke="#15822f" stroke-width="0.75"/>
<line x1="57.51" y1="359.99" x2="58.45" y2="355.74" stroke="#15822f" stroke-width="0.75"/>
<line x1="59.15" y1="369.71" x2="61.16" y2="373.96" stroke="#15822f" stroke-width="0.75"/>
<line x1="60.05" y1="369.29" x2="62.07" y2="373.53" stroke="#15822f" stroke-width="0.75"/>
<text x="59.30" y="355.75" font-size="4.3" fill="#fff" text-anchor="middle" stroke="#fff" stroke-width="1.0">O</text>
<text x="59.30" y="355.75" font-size="4.3" fill="#15822f" text-anchor="middle" stroke="#15822f" stroke-width="0.1">O</text>
<text x="62.40" y="376.95" font-size="4.3" fill="#fff" text-anchor="middle" stroke="#fff" stroke-width="1.0">O</text>
<text x="62.40" y="376.95" font-size="4.3" fill="#15822f" text-anchor="middle" stroke="#15822f" stroke-width="0.1">O</text>
<text x="62.50" y="366.25" font-size="4.3" fill="#fff" text-anchor="middle" stroke="#fff" stroke-width="1.0">N</text>
<text x="62.50" y="366.25" font-size="4.3" fill="#15822f" text-anchor="middle" stroke="#15822f" stroke-width="0.1">N</text>
<text x="39.00" y="363.67" font-size="4.35" fill="#15822f" text-anchor="middle">9</text>
<text x="46.00" y="358.47" font-size="4.35" fill="#15822f" text-anchor="middle">8</text>
<text x="52.90" y="360.27" font-size="4.35" fill="#15822f" text-anchor="middle">7</text>
<text x="62.00" y="360.67" font-size="4.35" fill="#15822f" text-anchor="middle">6</text>
<polyline points="109.29,365.66 108.76,371.64 113.68,375.08 119.11,372.54 119.64,366.56 114.72,363.12 109.29,365.66" stroke="#15822f" stroke-width="0.75" fill="none" stroke-linejoin="round"/>
<polyline points="110.71,367.23 110.44,370.33" stroke="#15822f" stroke-width="0.75" fill="none" stroke-linejoin="round"/>
<polyline points="114.33,373.05 117.15,371.74" stroke="#15822f" stroke-width="0.75" fill="none" stroke-linejoin="round"/>
<polyline points="117.56,367.01 115.01,365.23" stroke="#15822f" stroke-width="0.75" fill="none" stroke-linejoin="round"/>
<polyline points="109.29,365.66 103.90,362.70 100.60,365.90" stroke="#15822f" stroke-width="0.75" fill="none" stroke-linejoin="round"/>
<polyline points="108.76,371.64 102.30,372.10 100.40,368.70" stroke="#15822f" stroke-width="0.75" fill="none" stroke-linejoin="round"/>
<line x1="104.39" y1="362.59" x2="103.45" y2="358.34" stroke="#15822f" stroke-width="0.75"/>
<line x1="103.41" y1="362.81" x2="102.48" y2="358.56" stroke="#15822f" stroke-width="0.75"/>
<line x1="101.85" y1="371.89" x2="99.83" y2="376.13" stroke="#15822f" stroke-width="0.75"/>
<line x1="102.75" y1="372.31" x2="100.74" y2="376.56" stroke="#15822f" stroke-width="0.75"/>
<text x="102.60" y="358.35" font-size="4.3" fill="#fff" text-anchor="middle" stroke="#fff" stroke-width="1.0">O</text>
<text x="102.60" y="358.35" font-size="4.3" fill="#15822f" text-anchor="middle" stroke="#15822f" stroke-width="0.1">O</text>
<text x="99.50" y="379.55" font-size="4.3" fill="#fff" text-anchor="middle" stroke="#fff" stroke-width="1.0">O</text>
<text x="99.50" y="379.55" font-size="4.3" fill="#15822f" text-anchor="middle" stroke="#15822f" stroke-width="0.1">O</text>
<text x="99.40" y="368.85" font-size="4.3" fill="#fff" text-anchor="middle" stroke="#fff" stroke-width="1.0">N</text>
<text x="99.40" y="368.85" font-size="4.3" fill="#15822f" text-anchor="middle" stroke="#15822f" stroke-width="0.1">N</text>
<text x="100.30" y="363.37" font-size="4.35" fill="#15822f" text-anchor="middle">10</text>
<text x="110.90" y="361.77" font-size="4.35" fill="#15822f" text-anchor="middle">11</text>
<text x="117.70" y="361.77" font-size="4.35" fill="#15822f" text-anchor="middle">12</text>
<text x="123.90" y="367.17" font-size="4.35" fill="#15822f" text-anchor="middle">13</text>
<text x="78.10" y="369.15" font-size="4.3" fill="#fff" text-anchor="middle" stroke="#fff" stroke-width="1.0">N</text>
<text x="78.10" y="369.15" font-size="4.3" fill="#15822f" text-anchor="middle" stroke="#15822f" stroke-width="0.1">N</text>
<text x="78.10" y="373.35" font-size="4.3" fill="#fff" text-anchor="middle" stroke="#fff" stroke-width="1.0">H</text>
<text x="78.10" y="373.35" font-size="4.3" fill="#15822f" text-anchor="middle" stroke="#15822f" stroke-width="0.1">H</text>
<text x="68.20" y="372.57" font-size="4.35" fill="#15822f" text-anchor="middle">1</text>
<text x="72.60" y="363.17" font-size="4.35" fill="#15822f" text-anchor="middle">2</text>
<text x="84.00" y="362.77" font-size="4.35" fill="#15822f" text-anchor="middle">3</text>
<text x="88.90" y="372.77" font-size="4.35" fill="#15822f" text-anchor="middle">4</text>
<text x="94.30" y="363.07" font-size="4.35" fill="#15822f" text-anchor="middle">5</text>
<polyline points="188.60,477.00 192.40,479.60 197.30,476.60 203.40,478.40 208.80,476.60 213.80,479.60 219.20,476.60 222.60,478.80" stroke="#a8404e" stroke-width="0.75" fill="none" stroke-linejoin="round"/>
<text x="180.40" y="477.88" font-size="4.4" fill="#fff" text-anchor="start" stroke="#fff" stroke-width="1.0">H<tspan font-size="3.17" dy="1.1">2</tspan><tspan dy="-1.1">N</tspan></text>
<text x="180.40" y="477.88" font-size="4.4" fill="#a8404e" text-anchor="start" stroke="#a8404e" stroke-width="0.0">H<tspan font-size="3.17" dy="1.1">2</tspan><tspan dy="-1.1">N</tspan></text>
<text x="223.00" y="480.88" font-size="4.4" fill="#fff" text-anchor="start" stroke="#fff" stroke-width="1.0">NH<tspan font-size="3.17" dy="1.1">2</tspan><tspan dy="-1.1"></tspan></text>
<text x="223.00" y="480.88" font-size="4.4" fill="#a8404e" text-anchor="start" stroke="#a8404e" stroke-width="0.0">NH<tspan font-size="3.17" dy="1.1">2</tspan><tspan dy="-1.1"></tspan></text>
<text x="203.40" y="479.95" font-size="4.3" fill="#fff" text-anchor="middle" stroke="#fff" stroke-width="1.0">N</text>
<text x="203.40" y="479.95" font-size="4.3" fill="#a8404e" text-anchor="middle" stroke="#a8404e" stroke-width="0.0">N</text>
<text x="203.40" y="483.95" font-size="4.3" fill="#fff" text-anchor="middle" stroke="#fff" stroke-width="1.0">H</text>
<text x="203.40" y="483.95" font-size="4.3" fill="#a8404e" text-anchor="middle" stroke="#a8404e" stroke-width="0.0">H</text>
<text x="192.50" y="484.53" font-size="4.8" fill="#a8404e" text-anchor="middle">1</text>
<text x="197.30" y="474.93" font-size="4.8" fill="#a8404e" text-anchor="middle">2</text>
<text x="208.80" y="474.93" font-size="4.8" fill="#a8404e" text-anchor="middle">3</text>
<text x="213.80" y="484.53" font-size="4.8" fill="#a8404e" text-anchor="middle">4</text>
<text x="219.70" y="474.53" font-size="4.8" fill="#a8404e" text-anchor="middle">5</text>
</svg>
</body></html>
